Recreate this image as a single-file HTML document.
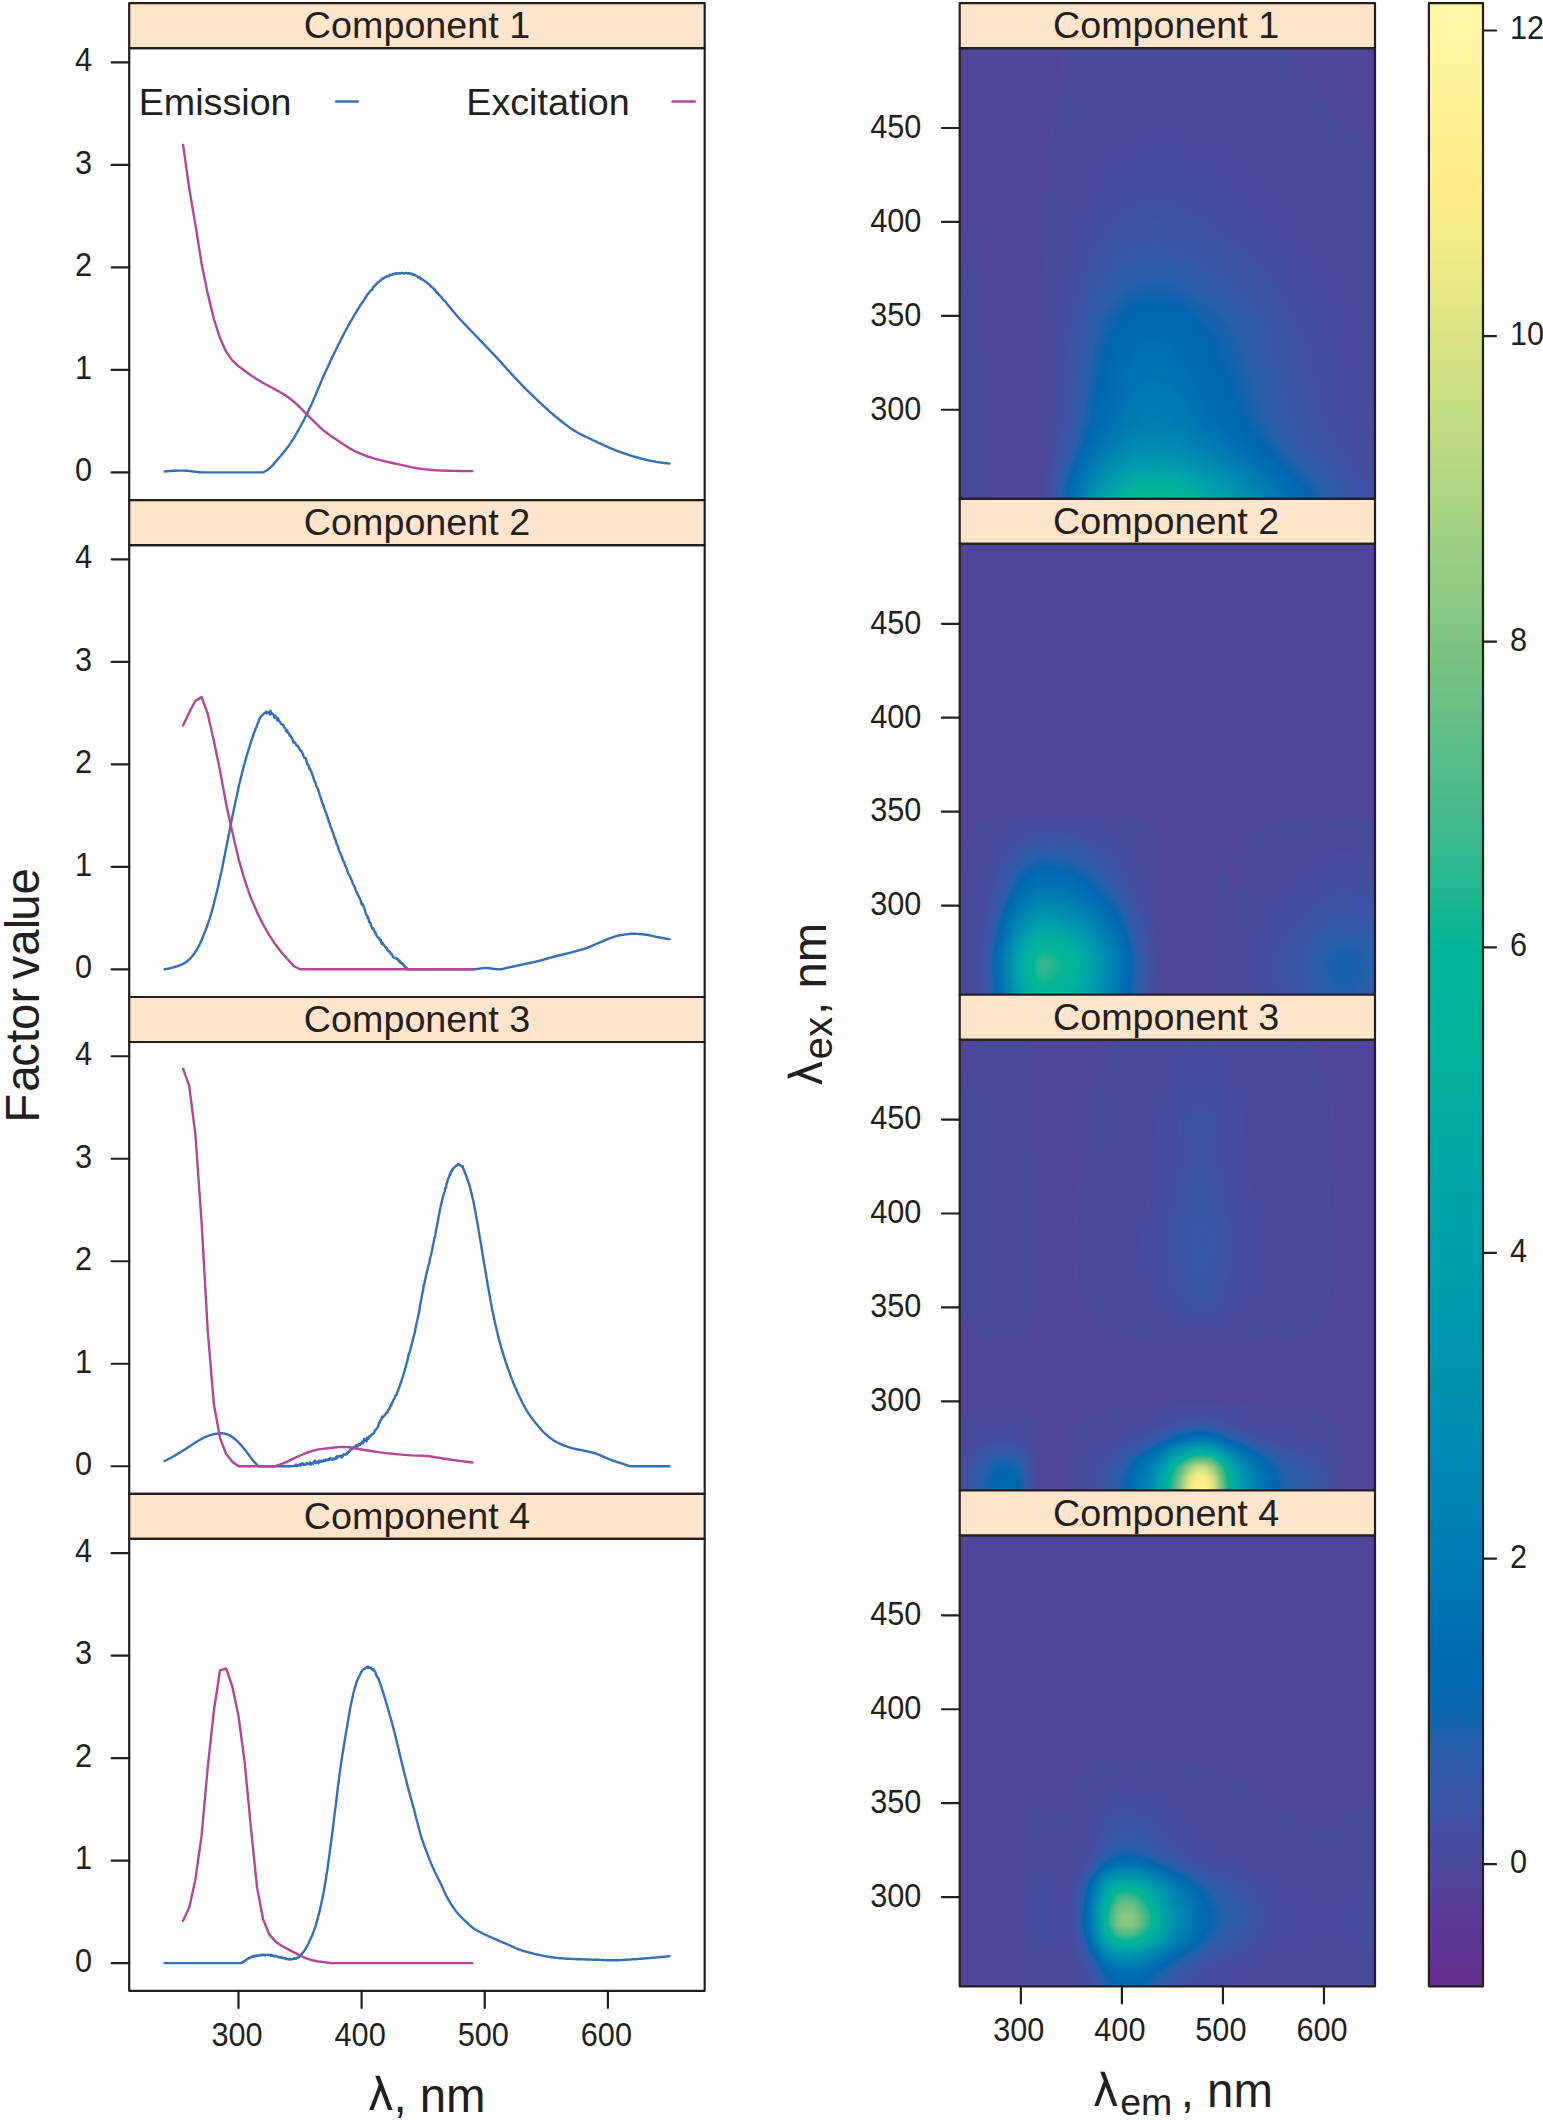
<!DOCTYPE html>
<html lang="en"><head><meta charset="utf-8"><title>PARAFAC components</title>
<style>html,body{margin:0;padding:0;background:#fff}svg{display:block}</style></head>
<body>
<svg width="1543" height="2120" viewBox="0 0 1543 2120" font-family="'Liberation Sans', sans-serif" fill="#231F20">
<rect width="1543" height="2120" fill="#fff"/>
<defs><linearGradient id="cb" x1="0" y1="0" x2="0" y2="1"><stop offset="0.0000" stop-color="#FFF6A8"/><stop offset="0.0154" stop-color="#FFF5A3"/><stop offset="0.0308" stop-color="#FFF49E"/><stop offset="0.0462" stop-color="#FFF298"/><stop offset="0.0615" stop-color="#FFF192"/><stop offset="0.0769" stop-color="#FEEF8C"/><stop offset="0.0923" stop-color="#FDEE86"/><stop offset="0.1077" stop-color="#F7EC86"/><stop offset="0.1231" stop-color="#F1EB85"/><stop offset="0.1385" stop-color="#E9E885"/><stop offset="0.1538" stop-color="#E1E684"/><stop offset="0.1692" stop-color="#D9E384"/><stop offset="0.1846" stop-color="#D1E083"/><stop offset="0.2000" stop-color="#C8DE82"/><stop offset="0.2154" stop-color="#C0DB82"/><stop offset="0.2308" stop-color="#B6D881"/><stop offset="0.2462" stop-color="#ADD581"/><stop offset="0.2615" stop-color="#A4D181"/><stop offset="0.2769" stop-color="#9BCE82"/><stop offset="0.2923" stop-color="#91CA82"/><stop offset="0.3077" stop-color="#87C783"/><stop offset="0.3231" stop-color="#7DC483"/><stop offset="0.3385" stop-color="#74C284"/><stop offset="0.3538" stop-color="#6AC085"/><stop offset="0.3692" stop-color="#60BE86"/><stop offset="0.3846" stop-color="#56BC88"/><stop offset="0.4000" stop-color="#4BBA8A"/><stop offset="0.4154" stop-color="#3FB98C"/><stop offset="0.4308" stop-color="#32B88E"/><stop offset="0.4462" stop-color="#23B791"/><stop offset="0.4615" stop-color="#11B693"/><stop offset="0.4769" stop-color="#00B596"/><stop offset="0.4923" stop-color="#00B497"/><stop offset="0.5077" stop-color="#00B398"/><stop offset="0.5231" stop-color="#00B29A"/><stop offset="0.5385" stop-color="#00B09C"/><stop offset="0.5538" stop-color="#00AE9F"/><stop offset="0.5692" stop-color="#00ABA2"/><stop offset="0.5846" stop-color="#00A8A6"/><stop offset="0.6000" stop-color="#00A5A8"/><stop offset="0.6154" stop-color="#00A3AA"/><stop offset="0.6308" stop-color="#00A0AC"/><stop offset="0.6462" stop-color="#009DAD"/><stop offset="0.6615" stop-color="#0099AE"/><stop offset="0.6769" stop-color="#0096AF"/><stop offset="0.6923" stop-color="#0092B0"/><stop offset="0.7077" stop-color="#008FB0"/><stop offset="0.7231" stop-color="#008BB1"/><stop offset="0.7385" stop-color="#0088B2"/><stop offset="0.7538" stop-color="#0084B2"/><stop offset="0.7692" stop-color="#007FB2"/><stop offset="0.7846" stop-color="#007BB2"/><stop offset="0.8000" stop-color="#0076B2"/><stop offset="0.8154" stop-color="#0071B3"/><stop offset="0.8308" stop-color="#006DB2"/><stop offset="0.8462" stop-color="#0068B1"/><stop offset="0.8615" stop-color="#0D64AF"/><stop offset="0.8769" stop-color="#2660AB"/><stop offset="0.8923" stop-color="#315AA8"/><stop offset="0.9077" stop-color="#3C55A5"/><stop offset="0.9231" stop-color="#454EA0"/><stop offset="0.9385" stop-color="#4D489C"/><stop offset="0.9538" stop-color="#554199"/><stop offset="0.9692" stop-color="#5C3A97"/><stop offset="0.9846" stop-color="#603494"/><stop offset="1.0000" stop-color="#652D90"/></linearGradient><filter id="cm" x="0" y="0" width="1" height="1" color-interpolation-filters="sRGB"><feComponentTransfer><feFuncR type="table" tableValues="0.313 0.313 0.313 0.313 0.313 0.306 0.297 0.291 0.291 0.291 0.291 0.291 0.291 0.291 0.291 0.291 0.291 0.291 0.291 0.291 0.289 0.288 0.287 0.285 0.284 0.282 0.281 0.279 0.277 0.276 0.274 0.272 0.270 0.268 0.266 0.264 0.261 0.259 0.257 0.254 0.252 0.249 0.247 0.244 0.241 0.239 0.236 0.232 0.228 0.224 0.220 0.216 0.212 0.208 0.204 0.199 0.195 0.190 0.185 0.181 0.176 0.171 0.166 0.161 0.156 0.151 0.140 0.128 0.115 0.103 0.090 0.077 0.063 0.050 0.036 0.022 0.008 0.000 0.000 0.000 0.000 0.000 0.000 0.000 0.000 0.000 0.000 0.000 0.000 0.000 0.000 0.000 0.000 0.000 0.000 0.000 0.000 0.000 0.000 0.000 0.000 0.000 0.000 0.000 0.000 0.000 0.000 0.000 0.000 0.000 0.000 0.000 0.000 0.000 0.000 0.000 0.000 0.000 0.000 0.000 0.000 0.000 0.000 0.000 0.000 0.000 0.000 0.000 0.000 0.000 0.000 0.000 0.000 0.000 0.000 0.000 0.000 0.000 0.000 0.000 0.000 0.000 0.000 0.000 0.000 0.000 0.000 0.000 0.000 0.000 0.000 0.000 0.000 0.000 0.000 0.000 0.000 0.000 0.000 0.000 0.000 0.000 0.000 0.000 0.000 0.000 0.000 0.000 0.000 0.000 0.000 0.000 0.000 0.000 0.000 0.000 0.000 0.000 0.000 0.004 0.028 0.052 0.076 0.100 0.124 0.149 0.173 0.191 0.208 0.226 0.243 0.260 0.278 0.295 0.311 0.325 0.340 0.355 0.371 0.386 0.401 0.415 0.429 0.444 0.458 0.472 0.487 0.502 0.517 0.532 0.548 0.563 0.579 0.594 0.609 0.623 0.638 0.653 0.667 0.682 0.697 0.712 0.727 0.742 0.757 0.772 0.786 0.800 0.814 0.828 0.843 0.857 0.870 0.884 0.898 0.912 0.925 0.938 0.949 0.961 0.972 0.983 0.995 0.997 0.997 0.998 0.999 1.000 1.000 1.000 1.000 1.000 1.000 1.000 1.000 1.000"/><feFuncG type="table" tableValues="0.272 0.272 0.272 0.272 0.272 0.279 0.286 0.291 0.291 0.291 0.291 0.291 0.291 0.291 0.291 0.291 0.291 0.291 0.291 0.291 0.292 0.293 0.294 0.295 0.296 0.297 0.299 0.300 0.301 0.302 0.304 0.305 0.307 0.308 0.310 0.312 0.313 0.315 0.317 0.319 0.321 0.323 0.325 0.327 0.329 0.331 0.333 0.335 0.337 0.339 0.341 0.343 0.345 0.347 0.349 0.351 0.354 0.356 0.358 0.361 0.363 0.365 0.368 0.371 0.373 0.376 0.378 0.380 0.382 0.384 0.386 0.388 0.390 0.392 0.394 0.396 0.399 0.401 0.404 0.406 0.409 0.412 0.414 0.417 0.420 0.423 0.425 0.428 0.431 0.434 0.437 0.440 0.444 0.447 0.450 0.453 0.457 0.460 0.464 0.467 0.471 0.474 0.478 0.481 0.485 0.488 0.492 0.495 0.499 0.502 0.506 0.509 0.513 0.516 0.520 0.524 0.527 0.530 0.533 0.537 0.540 0.543 0.546 0.549 0.553 0.556 0.559 0.563 0.566 0.569 0.573 0.576 0.580 0.583 0.587 0.590 0.594 0.597 0.601 0.604 0.607 0.611 0.614 0.617 0.621 0.624 0.627 0.630 0.633 0.637 0.640 0.643 0.646 0.649 0.652 0.655 0.659 0.662 0.665 0.668 0.672 0.675 0.678 0.682 0.684 0.687 0.689 0.691 0.694 0.696 0.699 0.701 0.703 0.704 0.705 0.706 0.707 0.708 0.709 0.710 0.711 0.712 0.713 0.714 0.715 0.716 0.718 0.719 0.721 0.722 0.724 0.726 0.727 0.729 0.732 0.735 0.738 0.740 0.743 0.746 0.749 0.752 0.755 0.758 0.761 0.764 0.767 0.771 0.776 0.781 0.786 0.791 0.796 0.801 0.807 0.812 0.818 0.824 0.829 0.835 0.840 0.846 0.851 0.856 0.861 0.867 0.871 0.875 0.879 0.883 0.887 0.891 0.896 0.900 0.905 0.910 0.915 0.919 0.922 0.924 0.927 0.930 0.933 0.936 0.939 0.942 0.944 0.947 0.950 0.952 0.954 0.956 0.958 0.960 0.963 0.965"/><feFuncB type="table" tableValues="0.608 0.608 0.608 0.608 0.608 0.610 0.614 0.618 0.618 0.618 0.618 0.618 0.618 0.618 0.618 0.618 0.618 0.618 0.618 0.618 0.618 0.619 0.620 0.621 0.621 0.622 0.623 0.624 0.625 0.626 0.627 0.628 0.629 0.630 0.631 0.632 0.633 0.634 0.636 0.637 0.638 0.640 0.641 0.642 0.644 0.645 0.647 0.648 0.649 0.650 0.651 0.652 0.653 0.655 0.656 0.657 0.658 0.659 0.661 0.662 0.663 0.665 0.666 0.667 0.669 0.670 0.672 0.674 0.676 0.678 0.680 0.682 0.684 0.686 0.688 0.691 0.693 0.694 0.695 0.696 0.696 0.697 0.697 0.698 0.699 0.699 0.700 0.700 0.701 0.702 0.702 0.702 0.701 0.701 0.701 0.700 0.700 0.700 0.700 0.699 0.699 0.699 0.698 0.698 0.698 0.698 0.698 0.698 0.698 0.698 0.698 0.698 0.698 0.698 0.698 0.698 0.698 0.697 0.696 0.696 0.695 0.694 0.693 0.693 0.692 0.691 0.691 0.690 0.690 0.689 0.689 0.688 0.688 0.688 0.687 0.687 0.687 0.686 0.685 0.683 0.682 0.681 0.680 0.678 0.677 0.676 0.675 0.672 0.670 0.668 0.666 0.664 0.661 0.659 0.657 0.654 0.651 0.647 0.643 0.640 0.636 0.632 0.628 0.624 0.621 0.618 0.614 0.611 0.607 0.604 0.600 0.597 0.595 0.594 0.593 0.592 0.591 0.590 0.589 0.588 0.584 0.580 0.576 0.573 0.569 0.565 0.561 0.558 0.556 0.553 0.550 0.547 0.544 0.542 0.539 0.536 0.533 0.530 0.527 0.524 0.521 0.520 0.519 0.518 0.517 0.516 0.514 0.513 0.513 0.512 0.512 0.511 0.510 0.510 0.509 0.508 0.508 0.507 0.507 0.506 0.507 0.507 0.508 0.508 0.509 0.510 0.511 0.512 0.514 0.515 0.516 0.518 0.518 0.519 0.520 0.520 0.521 0.522 0.523 0.523 0.524 0.525 0.525 0.535 0.547 0.558 0.570 0.582 0.592 0.602 0.612 0.622 0.632 0.642 0.653 0.663"/></feComponentTransfer></filter><linearGradient id="em0" x1="0" y1="0" x2="1" y2="0"><stop offset="0.0012" stop-color="#0F0F0F"/><stop offset="0.0073" stop-color="#111111"/><stop offset="0.0134" stop-color="#131313"/><stop offset="0.0195" stop-color="#141414"/><stop offset="0.0255" stop-color="#151515"/><stop offset="0.0316" stop-color="#151515"/><stop offset="0.0377" stop-color="#151515"/><stop offset="0.0438" stop-color="#141414"/><stop offset="0.0499" stop-color="#121212"/><stop offset="0.0560" stop-color="#101010"/><stop offset="0.0620" stop-color="#0C0C0C"/><stop offset="0.0681" stop-color="#080808"/><stop offset="0.0742" stop-color="#040404"/><stop offset="0.0803" stop-color="#000000"/><stop offset="0.0864" stop-color="#000000"/><stop offset="0.0925" stop-color="#000000"/><stop offset="0.0985" stop-color="#000000"/><stop offset="0.1046" stop-color="#000000"/><stop offset="0.1107" stop-color="#000000"/><stop offset="0.1168" stop-color="#000000"/><stop offset="0.1229" stop-color="#000000"/><stop offset="0.1290" stop-color="#000000"/><stop offset="0.1350" stop-color="#000000"/><stop offset="0.1411" stop-color="#000000"/><stop offset="0.1472" stop-color="#000000"/><stop offset="0.1533" stop-color="#000000"/><stop offset="0.1594" stop-color="#000000"/><stop offset="0.1655" stop-color="#000000"/><stop offset="0.1715" stop-color="#000000"/><stop offset="0.1776" stop-color="#000000"/><stop offset="0.1837" stop-color="#000000"/><stop offset="0.1898" stop-color="#000000"/><stop offset="0.1959" stop-color="#050505"/><stop offset="0.2019" stop-color="#141414"/><stop offset="0.2080" stop-color="#1F1F1F"/><stop offset="0.2141" stop-color="#282828"/><stop offset="0.2202" stop-color="#313131"/><stop offset="0.2263" stop-color="#393939"/><stop offset="0.2324" stop-color="#404040"/><stop offset="0.2384" stop-color="#474747"/><stop offset="0.2445" stop-color="#4D4D4D"/><stop offset="0.2506" stop-color="#535353"/><stop offset="0.2567" stop-color="#5A5A5A"/><stop offset="0.2628" stop-color="#606060"/><stop offset="0.2689" stop-color="#676767"/><stop offset="0.2749" stop-color="#6D6D6D"/><stop offset="0.2810" stop-color="#737373"/><stop offset="0.2871" stop-color="#7A7A7A"/><stop offset="0.2932" stop-color="#808080"/><stop offset="0.2993" stop-color="#868686"/><stop offset="0.3054" stop-color="#8C8C8C"/><stop offset="0.3114" stop-color="#929292"/><stop offset="0.3175" stop-color="#989898"/><stop offset="0.3236" stop-color="#9D9D9D"/><stop offset="0.3297" stop-color="#A2A2A2"/><stop offset="0.3358" stop-color="#A6A6A6"/><stop offset="0.3418" stop-color="#ABABAB"/><stop offset="0.3479" stop-color="#AFAFAF"/><stop offset="0.3540" stop-color="#B3B3B3"/><stop offset="0.3601" stop-color="#B7B7B7"/><stop offset="0.3662" stop-color="#BABABA"/><stop offset="0.3723" stop-color="#BDBDBD"/><stop offset="0.3783" stop-color="#C1C1C1"/><stop offset="0.3844" stop-color="#C4C4C4"/><stop offset="0.3905" stop-color="#C6C6C6"/><stop offset="0.3966" stop-color="#C9C9C9"/><stop offset="0.4027" stop-color="#CCCCCC"/><stop offset="0.4088" stop-color="#CECECE"/><stop offset="0.4148" stop-color="#D0D0D0"/><stop offset="0.4209" stop-color="#D2D2D2"/><stop offset="0.4270" stop-color="#D3D3D3"/><stop offset="0.4331" stop-color="#D5D5D5"/><stop offset="0.4392" stop-color="#D6D6D6"/><stop offset="0.4453" stop-color="#D6D6D6"/><stop offset="0.4513" stop-color="#D7D7D7"/><stop offset="0.4574" stop-color="#D7D7D7"/><stop offset="0.4635" stop-color="#D7D7D7"/><stop offset="0.4696" stop-color="#D7D7D7"/><stop offset="0.4757" stop-color="#D7D7D7"/><stop offset="0.4818" stop-color="#D7D7D7"/><stop offset="0.4878" stop-color="#D7D7D7"/><stop offset="0.4939" stop-color="#D6D6D6"/><stop offset="0.5000" stop-color="#D6D6D6"/><stop offset="0.5061" stop-color="#D5D5D5"/><stop offset="0.5122" stop-color="#D4D4D4"/><stop offset="0.5182" stop-color="#D2D2D2"/><stop offset="0.5243" stop-color="#D1D1D1"/><stop offset="0.5304" stop-color="#D0D0D0"/><stop offset="0.5365" stop-color="#CECECE"/><stop offset="0.5426" stop-color="#CCCCCC"/><stop offset="0.5487" stop-color="#CACACA"/><stop offset="0.5547" stop-color="#C8C8C8"/><stop offset="0.5608" stop-color="#C6C6C6"/><stop offset="0.5669" stop-color="#C3C3C3"/><stop offset="0.5730" stop-color="#C1C1C1"/><stop offset="0.5791" stop-color="#BFBFBF"/><stop offset="0.5852" stop-color="#BDBDBD"/><stop offset="0.5912" stop-color="#BBBBBB"/><stop offset="0.5973" stop-color="#B9B9B9"/><stop offset="0.6034" stop-color="#B7B7B7"/><stop offset="0.6095" stop-color="#B5B5B5"/><stop offset="0.6156" stop-color="#B3B3B3"/><stop offset="0.6217" stop-color="#B1B1B1"/><stop offset="0.6277" stop-color="#AEAEAE"/><stop offset="0.6338" stop-color="#ACACAC"/><stop offset="0.6399" stop-color="#AAAAAA"/><stop offset="0.6460" stop-color="#A8A8A8"/><stop offset="0.6521" stop-color="#A6A6A6"/><stop offset="0.6582" stop-color="#A3A3A3"/><stop offset="0.6642" stop-color="#A1A1A1"/><stop offset="0.6703" stop-color="#9E9E9E"/><stop offset="0.6764" stop-color="#9C9C9C"/><stop offset="0.6825" stop-color="#999999"/><stop offset="0.6886" stop-color="#979797"/><stop offset="0.6946" stop-color="#949494"/><stop offset="0.7007" stop-color="#919191"/><stop offset="0.7068" stop-color="#8F8F8F"/><stop offset="0.7129" stop-color="#8C8C8C"/><stop offset="0.7190" stop-color="#8A8A8A"/><stop offset="0.7251" stop-color="#878787"/><stop offset="0.7311" stop-color="#858585"/><stop offset="0.7372" stop-color="#828282"/><stop offset="0.7433" stop-color="#7F7F7F"/><stop offset="0.7494" stop-color="#7D7D7D"/><stop offset="0.7555" stop-color="#7A7A7A"/><stop offset="0.7616" stop-color="#777777"/><stop offset="0.7676" stop-color="#757575"/><stop offset="0.7737" stop-color="#727272"/><stop offset="0.7798" stop-color="#707070"/><stop offset="0.7859" stop-color="#6D6D6D"/><stop offset="0.7920" stop-color="#6A6A6A"/><stop offset="0.7981" stop-color="#686868"/><stop offset="0.8041" stop-color="#656565"/><stop offset="0.8102" stop-color="#636363"/><stop offset="0.8163" stop-color="#616161"/><stop offset="0.8224" stop-color="#5F5F5F"/><stop offset="0.8285" stop-color="#5D5D5D"/><stop offset="0.8345" stop-color="#5B5B5B"/><stop offset="0.8406" stop-color="#595959"/><stop offset="0.8467" stop-color="#575757"/><stop offset="0.8528" stop-color="#555555"/><stop offset="0.8589" stop-color="#535353"/><stop offset="0.8650" stop-color="#515151"/><stop offset="0.8710" stop-color="#4F4F4F"/><stop offset="0.8771" stop-color="#4D4D4D"/><stop offset="0.8832" stop-color="#4B4B4B"/><stop offset="0.8893" stop-color="#494949"/><stop offset="0.8954" stop-color="#474747"/><stop offset="0.9015" stop-color="#454545"/><stop offset="0.9075" stop-color="#434343"/><stop offset="0.9136" stop-color="#414141"/><stop offset="0.9197" stop-color="#3F3F3F"/><stop offset="0.9258" stop-color="#3E3E3E"/><stop offset="0.9319" stop-color="#3C3C3C"/><stop offset="0.9380" stop-color="#3A3A3A"/><stop offset="0.9440" stop-color="#393939"/><stop offset="0.9501" stop-color="#373737"/><stop offset="0.9562" stop-color="#353535"/><stop offset="0.9623" stop-color="#343434"/><stop offset="0.9684" stop-color="#333333"/><stop offset="0.9745" stop-color="#313131"/><stop offset="0.9805" stop-color="#303030"/><stop offset="0.9866" stop-color="#2F2F2F"/><stop offset="0.9927" stop-color="#2E2E2E"/><stop offset="0.9988" stop-color="#2E2E2E"/></linearGradient><linearGradient id="ex0" x1="0" y1="0" x2="0" y2="1"><stop offset="0.0104" stop-color="#0E0E0E"/><stop offset="0.0312" stop-color="#0E0E0E"/><stop offset="0.0521" stop-color="#0E0E0E"/><stop offset="0.0729" stop-color="#0F0F0F"/><stop offset="0.0938" stop-color="#101010"/><stop offset="0.1146" stop-color="#111111"/><stop offset="0.1354" stop-color="#121212"/><stop offset="0.1562" stop-color="#141414"/><stop offset="0.1771" stop-color="#161616"/><stop offset="0.1979" stop-color="#181818"/><stop offset="0.2188" stop-color="#1C1C1C"/><stop offset="0.2396" stop-color="#1F1F1F"/><stop offset="0.2604" stop-color="#222222"/><stop offset="0.2812" stop-color="#252525"/><stop offset="0.3021" stop-color="#272727"/><stop offset="0.3229" stop-color="#2A2A2A"/><stop offset="0.3438" stop-color="#2D2D2D"/><stop offset="0.3646" stop-color="#303030"/><stop offset="0.3854" stop-color="#333333"/><stop offset="0.4062" stop-color="#363636"/><stop offset="0.4271" stop-color="#3B3B3B"/><stop offset="0.4479" stop-color="#3F3F3F"/><stop offset="0.4688" stop-color="#444444"/><stop offset="0.4896" stop-color="#484848"/><stop offset="0.5104" stop-color="#4C4C4C"/><stop offset="0.5312" stop-color="#515151"/><stop offset="0.5521" stop-color="#565656"/><stop offset="0.5729" stop-color="#5B5B5B"/><stop offset="0.5938" stop-color="#606060"/><stop offset="0.6146" stop-color="#646464"/><stop offset="0.6354" stop-color="#676767"/><stop offset="0.6562" stop-color="#6A6A6A"/><stop offset="0.6771" stop-color="#6C6C6C"/><stop offset="0.6979" stop-color="#6E6E6E"/><stop offset="0.7188" stop-color="#717171"/><stop offset="0.7396" stop-color="#737373"/><stop offset="0.7604" stop-color="#757575"/><stop offset="0.7812" stop-color="#787878"/><stop offset="0.8021" stop-color="#7B7B7B"/><stop offset="0.8229" stop-color="#7E7E7E"/><stop offset="0.8438" stop-color="#838383"/><stop offset="0.8646" stop-color="#8A8A8A"/><stop offset="0.8854" stop-color="#939393"/><stop offset="0.9062" stop-color="#9F9F9F"/><stop offset="0.9271" stop-color="#ACACAC"/><stop offset="0.9479" stop-color="#BBBBBB"/><stop offset="0.9688" stop-color="#C9C9C9"/><stop offset="0.9896" stop-color="#D7D7D7"/></linearGradient><clipPath id="cl0"><rect x="129.2" y="48.20" width="575.50" height="451.90"/></clipPath><linearGradient id="em1" x1="0" y1="0" x2="1" y2="0"><stop offset="0.0012" stop-color="#000000"/><stop offset="0.0073" stop-color="#0A0A0A"/><stop offset="0.0134" stop-color="#0F0F0F"/><stop offset="0.0195" stop-color="#141414"/><stop offset="0.0255" stop-color="#181818"/><stop offset="0.0316" stop-color="#1C1C1C"/><stop offset="0.0377" stop-color="#202020"/><stop offset="0.0438" stop-color="#252525"/><stop offset="0.0499" stop-color="#2B2B2B"/><stop offset="0.0560" stop-color="#323232"/><stop offset="0.0620" stop-color="#393939"/><stop offset="0.0681" stop-color="#414141"/><stop offset="0.0742" stop-color="#4A4A4A"/><stop offset="0.0803" stop-color="#535353"/><stop offset="0.0864" stop-color="#5C5C5C"/><stop offset="0.0925" stop-color="#656565"/><stop offset="0.0985" stop-color="#6F6F6F"/><stop offset="0.1046" stop-color="#797979"/><stop offset="0.1107" stop-color="#838383"/><stop offset="0.1168" stop-color="#8D8D8D"/><stop offset="0.1229" stop-color="#979797"/><stop offset="0.1290" stop-color="#A0A0A0"/><stop offset="0.1350" stop-color="#A9A9A9"/><stop offset="0.1411" stop-color="#B1B1B1"/><stop offset="0.1472" stop-color="#B8B8B8"/><stop offset="0.1533" stop-color="#BFBFBF"/><stop offset="0.1594" stop-color="#C4C4C4"/><stop offset="0.1655" stop-color="#C9C9C9"/><stop offset="0.1715" stop-color="#CECECE"/><stop offset="0.1776" stop-color="#D2D2D2"/><stop offset="0.1837" stop-color="#D6D6D6"/><stop offset="0.1898" stop-color="#D9D9D9"/><stop offset="0.1959" stop-color="#DADADA"/><stop offset="0.2019" stop-color="#DBDBDB"/><stop offset="0.2080" stop-color="#DBDBDB"/><stop offset="0.2141" stop-color="#DADADA"/><stop offset="0.2202" stop-color="#D9D9D9"/><stop offset="0.2263" stop-color="#D8D8D8"/><stop offset="0.2324" stop-color="#D6D6D6"/><stop offset="0.2384" stop-color="#D4D4D4"/><stop offset="0.2445" stop-color="#D3D3D3"/><stop offset="0.2506" stop-color="#D1D1D1"/><stop offset="0.2567" stop-color="#CECECE"/><stop offset="0.2628" stop-color="#CCCCCC"/><stop offset="0.2689" stop-color="#CBCBCB"/><stop offset="0.2749" stop-color="#C9C9C9"/><stop offset="0.2810" stop-color="#C6C6C6"/><stop offset="0.2871" stop-color="#C2C2C2"/><stop offset="0.2932" stop-color="#BFBFBF"/><stop offset="0.2993" stop-color="#BBBBBB"/><stop offset="0.3054" stop-color="#B6B6B6"/><stop offset="0.3114" stop-color="#B2B2B2"/><stop offset="0.3175" stop-color="#ADADAD"/><stop offset="0.3236" stop-color="#A8A8A8"/><stop offset="0.3297" stop-color="#A3A3A3"/><stop offset="0.3358" stop-color="#9E9E9E"/><stop offset="0.3418" stop-color="#999999"/><stop offset="0.3479" stop-color="#949494"/><stop offset="0.3540" stop-color="#8F8F8F"/><stop offset="0.3601" stop-color="#8A8A8A"/><stop offset="0.3662" stop-color="#858585"/><stop offset="0.3723" stop-color="#808080"/><stop offset="0.3783" stop-color="#7B7B7B"/><stop offset="0.3844" stop-color="#757575"/><stop offset="0.3905" stop-color="#6F6F6F"/><stop offset="0.3966" stop-color="#696969"/><stop offset="0.4027" stop-color="#626262"/><stop offset="0.4088" stop-color="#5B5B5B"/><stop offset="0.4148" stop-color="#555555"/><stop offset="0.4209" stop-color="#4F4F4F"/><stop offset="0.4270" stop-color="#494949"/><stop offset="0.4331" stop-color="#444444"/><stop offset="0.4392" stop-color="#3F3F3F"/><stop offset="0.4453" stop-color="#393939"/><stop offset="0.4513" stop-color="#333333"/><stop offset="0.4574" stop-color="#2D2D2D"/><stop offset="0.4635" stop-color="#272727"/><stop offset="0.4696" stop-color="#212121"/><stop offset="0.4757" stop-color="#171717"/><stop offset="0.4818" stop-color="#070707"/><stop offset="0.4878" stop-color="#000000"/><stop offset="0.4939" stop-color="#000000"/><stop offset="0.5000" stop-color="#000000"/><stop offset="0.5061" stop-color="#000000"/><stop offset="0.5122" stop-color="#000000"/><stop offset="0.5182" stop-color="#000000"/><stop offset="0.5243" stop-color="#000000"/><stop offset="0.5304" stop-color="#000000"/><stop offset="0.5365" stop-color="#000000"/><stop offset="0.5426" stop-color="#000000"/><stop offset="0.5487" stop-color="#000000"/><stop offset="0.5547" stop-color="#000000"/><stop offset="0.5608" stop-color="#000000"/><stop offset="0.5669" stop-color="#000000"/><stop offset="0.5730" stop-color="#000000"/><stop offset="0.5791" stop-color="#000000"/><stop offset="0.5852" stop-color="#000000"/><stop offset="0.5912" stop-color="#000000"/><stop offset="0.5973" stop-color="#000000"/><stop offset="0.6034" stop-color="#000000"/><stop offset="0.6095" stop-color="#000000"/><stop offset="0.6156" stop-color="#050505"/><stop offset="0.6217" stop-color="#0A0A0A"/><stop offset="0.6277" stop-color="#0E0E0E"/><stop offset="0.6338" stop-color="#101010"/><stop offset="0.6399" stop-color="#0F0F0F"/><stop offset="0.6460" stop-color="#0D0D0D"/><stop offset="0.6521" stop-color="#090909"/><stop offset="0.6582" stop-color="#040404"/><stop offset="0.6642" stop-color="#030303"/><stop offset="0.6703" stop-color="#0A0A0A"/><stop offset="0.6764" stop-color="#101010"/><stop offset="0.6825" stop-color="#141414"/><stop offset="0.6886" stop-color="#161616"/><stop offset="0.6946" stop-color="#191919"/><stop offset="0.7007" stop-color="#1B1B1B"/><stop offset="0.7068" stop-color="#1E1E1E"/><stop offset="0.7129" stop-color="#202020"/><stop offset="0.7190" stop-color="#212121"/><stop offset="0.7251" stop-color="#232323"/><stop offset="0.7311" stop-color="#252525"/><stop offset="0.7372" stop-color="#272727"/><stop offset="0.7433" stop-color="#292929"/><stop offset="0.7494" stop-color="#2A2A2A"/><stop offset="0.7555" stop-color="#2C2C2C"/><stop offset="0.7616" stop-color="#2E2E2E"/><stop offset="0.7676" stop-color="#303030"/><stop offset="0.7737" stop-color="#313131"/><stop offset="0.7798" stop-color="#333333"/><stop offset="0.7859" stop-color="#343434"/><stop offset="0.7920" stop-color="#363636"/><stop offset="0.7981" stop-color="#373737"/><stop offset="0.8041" stop-color="#383838"/><stop offset="0.8102" stop-color="#3A3A3A"/><stop offset="0.8163" stop-color="#3B3B3B"/><stop offset="0.8224" stop-color="#3C3C3C"/><stop offset="0.8285" stop-color="#3E3E3E"/><stop offset="0.8345" stop-color="#3F3F3F"/><stop offset="0.8406" stop-color="#414141"/><stop offset="0.8467" stop-color="#434343"/><stop offset="0.8528" stop-color="#444444"/><stop offset="0.8589" stop-color="#464646"/><stop offset="0.8650" stop-color="#484848"/><stop offset="0.8710" stop-color="#4A4A4A"/><stop offset="0.8771" stop-color="#4B4B4B"/><stop offset="0.8832" stop-color="#4D4D4D"/><stop offset="0.8893" stop-color="#4E4E4E"/><stop offset="0.8954" stop-color="#4F4F4F"/><stop offset="0.9015" stop-color="#505050"/><stop offset="0.9075" stop-color="#505050"/><stop offset="0.9136" stop-color="#515151"/><stop offset="0.9197" stop-color="#515151"/><stop offset="0.9258" stop-color="#525252"/><stop offset="0.9319" stop-color="#525252"/><stop offset="0.9380" stop-color="#515151"/><stop offset="0.9440" stop-color="#515151"/><stop offset="0.9501" stop-color="#515151"/><stop offset="0.9562" stop-color="#505050"/><stop offset="0.9623" stop-color="#4F4F4F"/><stop offset="0.9684" stop-color="#4F4F4F"/><stop offset="0.9745" stop-color="#4E4E4E"/><stop offset="0.9805" stop-color="#4D4D4D"/><stop offset="0.9866" stop-color="#4C4C4C"/><stop offset="0.9927" stop-color="#4C4C4C"/><stop offset="0.9988" stop-color="#4B4B4B"/></linearGradient><linearGradient id="ex1" x1="0" y1="0" x2="0" y2="1"><stop offset="0.0104" stop-color="#000000"/><stop offset="0.0312" stop-color="#000000"/><stop offset="0.0521" stop-color="#000000"/><stop offset="0.0729" stop-color="#000000"/><stop offset="0.0938" stop-color="#000000"/><stop offset="0.1146" stop-color="#000000"/><stop offset="0.1354" stop-color="#000000"/><stop offset="0.1562" stop-color="#000000"/><stop offset="0.1771" stop-color="#000000"/><stop offset="0.1979" stop-color="#000000"/><stop offset="0.2188" stop-color="#000000"/><stop offset="0.2396" stop-color="#000000"/><stop offset="0.2604" stop-color="#000000"/><stop offset="0.2812" stop-color="#000000"/><stop offset="0.3021" stop-color="#000000"/><stop offset="0.3229" stop-color="#000000"/><stop offset="0.3438" stop-color="#000000"/><stop offset="0.3646" stop-color="#000000"/><stop offset="0.3854" stop-color="#000000"/><stop offset="0.4062" stop-color="#000000"/><stop offset="0.4271" stop-color="#000000"/><stop offset="0.4479" stop-color="#000000"/><stop offset="0.4688" stop-color="#000000"/><stop offset="0.4896" stop-color="#000000"/><stop offset="0.5104" stop-color="#000000"/><stop offset="0.5312" stop-color="#000000"/><stop offset="0.5521" stop-color="#000000"/><stop offset="0.5729" stop-color="#000000"/><stop offset="0.5938" stop-color="#000000"/><stop offset="0.6146" stop-color="#181818"/><stop offset="0.6354" stop-color="#2A2A2A"/><stop offset="0.6562" stop-color="#373737"/><stop offset="0.6771" stop-color="#424242"/><stop offset="0.6979" stop-color="#4E4E4E"/><stop offset="0.7188" stop-color="#595959"/><stop offset="0.7396" stop-color="#656565"/><stop offset="0.7604" stop-color="#707070"/><stop offset="0.7812" stop-color="#7D7D7D"/><stop offset="0.8021" stop-color="#8C8C8C"/><stop offset="0.8229" stop-color="#9C9C9C"/><stop offset="0.8438" stop-color="#ABABAB"/><stop offset="0.8646" stop-color="#BBBBBB"/><stop offset="0.8854" stop-color="#C9C9C9"/><stop offset="0.9062" stop-color="#D4D4D4"/><stop offset="0.9271" stop-color="#DBDBDB"/><stop offset="0.9479" stop-color="#DADADA"/><stop offset="0.9688" stop-color="#D5D5D5"/><stop offset="0.9896" stop-color="#CFCFCF"/></linearGradient><clipPath id="cl1"><rect x="129.2" y="545.10" width="575.50" height="451.90"/></clipPath><linearGradient id="em2" x1="0" y1="0" x2="1" y2="0"><stop offset="0.0012" stop-color="#212121"/><stop offset="0.0073" stop-color="#262626"/><stop offset="0.0134" stop-color="#2A2A2A"/><stop offset="0.0195" stop-color="#2E2E2E"/><stop offset="0.0255" stop-color="#323232"/><stop offset="0.0316" stop-color="#363636"/><stop offset="0.0377" stop-color="#393939"/><stop offset="0.0438" stop-color="#3D3D3D"/><stop offset="0.0499" stop-color="#404040"/><stop offset="0.0560" stop-color="#434343"/><stop offset="0.0620" stop-color="#464646"/><stop offset="0.0681" stop-color="#494949"/><stop offset="0.0742" stop-color="#4C4C4C"/><stop offset="0.0803" stop-color="#4E4E4E"/><stop offset="0.0864" stop-color="#4F4F4F"/><stop offset="0.0925" stop-color="#515151"/><stop offset="0.0985" stop-color="#525252"/><stop offset="0.1046" stop-color="#525252"/><stop offset="0.1107" stop-color="#535353"/><stop offset="0.1168" stop-color="#535353"/><stop offset="0.1229" stop-color="#525252"/><stop offset="0.1290" stop-color="#515151"/><stop offset="0.1350" stop-color="#4E4E4E"/><stop offset="0.1411" stop-color="#4B4B4B"/><stop offset="0.1472" stop-color="#474747"/><stop offset="0.1533" stop-color="#414141"/><stop offset="0.1594" stop-color="#3B3B3B"/><stop offset="0.1655" stop-color="#333333"/><stop offset="0.1715" stop-color="#2A2A2A"/><stop offset="0.1776" stop-color="#1F1F1F"/><stop offset="0.1837" stop-color="#111111"/><stop offset="0.1898" stop-color="#000000"/><stop offset="0.1959" stop-color="#000000"/><stop offset="0.2019" stop-color="#000000"/><stop offset="0.2080" stop-color="#000000"/><stop offset="0.2141" stop-color="#000000"/><stop offset="0.2202" stop-color="#000000"/><stop offset="0.2263" stop-color="#000000"/><stop offset="0.2324" stop-color="#000000"/><stop offset="0.2384" stop-color="#000000"/><stop offset="0.2445" stop-color="#000000"/><stop offset="0.2506" stop-color="#030303"/><stop offset="0.2567" stop-color="#080808"/><stop offset="0.2628" stop-color="#0D0D0D"/><stop offset="0.2689" stop-color="#111111"/><stop offset="0.2749" stop-color="#141414"/><stop offset="0.2810" stop-color="#161616"/><stop offset="0.2871" stop-color="#191919"/><stop offset="0.2932" stop-color="#1A1A1A"/><stop offset="0.2993" stop-color="#1C1C1C"/><stop offset="0.3054" stop-color="#1E1E1E"/><stop offset="0.3114" stop-color="#202020"/><stop offset="0.3175" stop-color="#222222"/><stop offset="0.3236" stop-color="#242424"/><stop offset="0.3297" stop-color="#272727"/><stop offset="0.3358" stop-color="#292929"/><stop offset="0.3418" stop-color="#2B2B2B"/><stop offset="0.3479" stop-color="#2E2E2E"/><stop offset="0.3540" stop-color="#303030"/><stop offset="0.3601" stop-color="#343434"/><stop offset="0.3662" stop-color="#383838"/><stop offset="0.3723" stop-color="#3D3D3D"/><stop offset="0.3783" stop-color="#404040"/><stop offset="0.3844" stop-color="#434343"/><stop offset="0.3905" stop-color="#454545"/><stop offset="0.3966" stop-color="#494949"/><stop offset="0.4027" stop-color="#4C4C4C"/><stop offset="0.4088" stop-color="#505050"/><stop offset="0.4148" stop-color="#545454"/><stop offset="0.4209" stop-color="#595959"/><stop offset="0.4270" stop-color="#616161"/><stop offset="0.4331" stop-color="#666666"/><stop offset="0.4392" stop-color="#696969"/><stop offset="0.4453" stop-color="#6E6E6E"/><stop offset="0.4513" stop-color="#737373"/><stop offset="0.4574" stop-color="#797979"/><stop offset="0.4635" stop-color="#7F7F7F"/><stop offset="0.4696" stop-color="#868686"/><stop offset="0.4757" stop-color="#8E8E8E"/><stop offset="0.4818" stop-color="#959595"/><stop offset="0.4878" stop-color="#9D9D9D"/><stop offset="0.4939" stop-color="#A5A5A5"/><stop offset="0.5000" stop-color="#ADADAD"/><stop offset="0.5061" stop-color="#B7B7B7"/><stop offset="0.5122" stop-color="#C0C0C0"/><stop offset="0.5182" stop-color="#C8C8C8"/><stop offset="0.5243" stop-color="#CECECE"/><stop offset="0.5304" stop-color="#D5D5D5"/><stop offset="0.5365" stop-color="#DDDDDD"/><stop offset="0.5426" stop-color="#E4E4E4"/><stop offset="0.5487" stop-color="#EAEAEA"/><stop offset="0.5547" stop-color="#F0F0F0"/><stop offset="0.5608" stop-color="#F4F4F4"/><stop offset="0.5669" stop-color="#F8F8F8"/><stop offset="0.5730" stop-color="#FAFAFA"/><stop offset="0.5791" stop-color="#FBFBFB"/><stop offset="0.5852" stop-color="#FBFBFB"/><stop offset="0.5912" stop-color="#F9F9F9"/><stop offset="0.5973" stop-color="#F6F6F6"/><stop offset="0.6034" stop-color="#F2F2F2"/><stop offset="0.6095" stop-color="#EDEDED"/><stop offset="0.6156" stop-color="#E6E6E6"/><stop offset="0.6217" stop-color="#DEDEDE"/><stop offset="0.6277" stop-color="#D5D5D5"/><stop offset="0.6338" stop-color="#CCCCCC"/><stop offset="0.6399" stop-color="#C2C2C2"/><stop offset="0.6460" stop-color="#B9B9B9"/><stop offset="0.6521" stop-color="#B0B0B0"/><stop offset="0.6582" stop-color="#A8A8A8"/><stop offset="0.6642" stop-color="#A0A0A0"/><stop offset="0.6703" stop-color="#999999"/><stop offset="0.6764" stop-color="#929292"/><stop offset="0.6825" stop-color="#8C8C8C"/><stop offset="0.6886" stop-color="#868686"/><stop offset="0.6946" stop-color="#808080"/><stop offset="0.7007" stop-color="#7A7A7A"/><stop offset="0.7068" stop-color="#747474"/><stop offset="0.7129" stop-color="#6F6F6F"/><stop offset="0.7190" stop-color="#6A6A6A"/><stop offset="0.7251" stop-color="#666666"/><stop offset="0.7311" stop-color="#616161"/><stop offset="0.7372" stop-color="#5D5D5D"/><stop offset="0.7433" stop-color="#595959"/><stop offset="0.7494" stop-color="#555555"/><stop offset="0.7555" stop-color="#515151"/><stop offset="0.7616" stop-color="#4E4E4E"/><stop offset="0.7676" stop-color="#4B4B4B"/><stop offset="0.7737" stop-color="#484848"/><stop offset="0.7798" stop-color="#454545"/><stop offset="0.7859" stop-color="#434343"/><stop offset="0.7920" stop-color="#414141"/><stop offset="0.7981" stop-color="#404040"/><stop offset="0.8041" stop-color="#3E3E3E"/><stop offset="0.8102" stop-color="#3D3D3D"/><stop offset="0.8163" stop-color="#3B3B3B"/><stop offset="0.8224" stop-color="#3A3A3A"/><stop offset="0.8285" stop-color="#393939"/><stop offset="0.8345" stop-color="#383838"/><stop offset="0.8406" stop-color="#373737"/><stop offset="0.8467" stop-color="#353535"/><stop offset="0.8528" stop-color="#343434"/><stop offset="0.8589" stop-color="#313131"/><stop offset="0.8650" stop-color="#2E2E2E"/><stop offset="0.8710" stop-color="#2B2B2B"/><stop offset="0.8771" stop-color="#282828"/><stop offset="0.8832" stop-color="#252525"/><stop offset="0.8893" stop-color="#212121"/><stop offset="0.8954" stop-color="#1E1E1E"/><stop offset="0.9015" stop-color="#1A1A1A"/><stop offset="0.9075" stop-color="#161616"/><stop offset="0.9136" stop-color="#101010"/><stop offset="0.9197" stop-color="#070707"/><stop offset="0.9258" stop-color="#000000"/><stop offset="0.9319" stop-color="#000000"/><stop offset="0.9380" stop-color="#000000"/><stop offset="0.9440" stop-color="#000000"/><stop offset="0.9501" stop-color="#000000"/><stop offset="0.9562" stop-color="#000000"/><stop offset="0.9623" stop-color="#000000"/><stop offset="0.9684" stop-color="#000000"/><stop offset="0.9745" stop-color="#000000"/><stop offset="0.9805" stop-color="#000000"/><stop offset="0.9866" stop-color="#000000"/><stop offset="0.9927" stop-color="#000000"/><stop offset="0.9988" stop-color="#000000"/></linearGradient><linearGradient id="ex2" x1="0" y1="0" x2="0" y2="1"><stop offset="0.0104" stop-color="#181818"/><stop offset="0.0312" stop-color="#1B1B1B"/><stop offset="0.0521" stop-color="#1D1D1D"/><stop offset="0.0729" stop-color="#1F1F1F"/><stop offset="0.0938" stop-color="#212121"/><stop offset="0.1146" stop-color="#242424"/><stop offset="0.1354" stop-color="#262626"/><stop offset="0.1562" stop-color="#282828"/><stop offset="0.1771" stop-color="#292929"/><stop offset="0.1979" stop-color="#292929"/><stop offset="0.2188" stop-color="#292929"/><stop offset="0.2396" stop-color="#2A2A2A"/><stop offset="0.2604" stop-color="#2B2B2B"/><stop offset="0.2812" stop-color="#2C2C2C"/><stop offset="0.3021" stop-color="#2E2E2E"/><stop offset="0.3229" stop-color="#2F2F2F"/><stop offset="0.3438" stop-color="#303030"/><stop offset="0.3646" stop-color="#323232"/><stop offset="0.3854" stop-color="#333333"/><stop offset="0.4062" stop-color="#353535"/><stop offset="0.4271" stop-color="#373737"/><stop offset="0.4479" stop-color="#373737"/><stop offset="0.4688" stop-color="#373737"/><stop offset="0.4896" stop-color="#363636"/><stop offset="0.5104" stop-color="#353535"/><stop offset="0.5312" stop-color="#343434"/><stop offset="0.5521" stop-color="#313131"/><stop offset="0.5729" stop-color="#2E2E2E"/><stop offset="0.5938" stop-color="#292929"/><stop offset="0.6146" stop-color="#232323"/><stop offset="0.6354" stop-color="#1C1C1C"/><stop offset="0.6562" stop-color="#131313"/><stop offset="0.6771" stop-color="#050505"/><stop offset="0.6979" stop-color="#000000"/><stop offset="0.7188" stop-color="#000000"/><stop offset="0.7396" stop-color="#000000"/><stop offset="0.7604" stop-color="#000000"/><stop offset="0.7812" stop-color="#000000"/><stop offset="0.8021" stop-color="#000000"/><stop offset="0.8229" stop-color="#1B1B1B"/><stop offset="0.8438" stop-color="#2C2C2C"/><stop offset="0.8646" stop-color="#434343"/><stop offset="0.8854" stop-color="#636363"/><stop offset="0.9062" stop-color="#939393"/><stop offset="0.9271" stop-color="#C4C4C4"/><stop offset="0.9479" stop-color="#E5E5E5"/><stop offset="0.9688" stop-color="#F5F5F5"/><stop offset="0.9896" stop-color="#FBFBFB"/></linearGradient><clipPath id="cl2"><rect x="129.2" y="1042.00" width="575.50" height="451.90"/></clipPath><linearGradient id="em3" x1="0" y1="0" x2="1" y2="0"><stop offset="0.0012" stop-color="#000000"/><stop offset="0.0073" stop-color="#000000"/><stop offset="0.0134" stop-color="#000000"/><stop offset="0.0195" stop-color="#000000"/><stop offset="0.0255" stop-color="#000000"/><stop offset="0.0316" stop-color="#000000"/><stop offset="0.0377" stop-color="#000000"/><stop offset="0.0438" stop-color="#000000"/><stop offset="0.0499" stop-color="#000000"/><stop offset="0.0560" stop-color="#000000"/><stop offset="0.0620" stop-color="#000000"/><stop offset="0.0681" stop-color="#000000"/><stop offset="0.0742" stop-color="#000000"/><stop offset="0.0803" stop-color="#000000"/><stop offset="0.0864" stop-color="#000000"/><stop offset="0.0925" stop-color="#000000"/><stop offset="0.0985" stop-color="#000000"/><stop offset="0.1046" stop-color="#000000"/><stop offset="0.1107" stop-color="#000000"/><stop offset="0.1168" stop-color="#000000"/><stop offset="0.1229" stop-color="#000000"/><stop offset="0.1290" stop-color="#000000"/><stop offset="0.1350" stop-color="#000000"/><stop offset="0.1411" stop-color="#000000"/><stop offset="0.1472" stop-color="#000000"/><stop offset="0.1533" stop-color="#050505"/><stop offset="0.1594" stop-color="#151515"/><stop offset="0.1655" stop-color="#1C1C1C"/><stop offset="0.1715" stop-color="#202020"/><stop offset="0.1776" stop-color="#232323"/><stop offset="0.1837" stop-color="#252525"/><stop offset="0.1898" stop-color="#262626"/><stop offset="0.1959" stop-color="#272727"/><stop offset="0.2019" stop-color="#272727"/><stop offset="0.2080" stop-color="#262626"/><stop offset="0.2141" stop-color="#252525"/><stop offset="0.2202" stop-color="#242424"/><stop offset="0.2263" stop-color="#222222"/><stop offset="0.2324" stop-color="#1F1F1F"/><stop offset="0.2384" stop-color="#1D1D1D"/><stop offset="0.2445" stop-color="#1B1B1B"/><stop offset="0.2506" stop-color="#1B1B1B"/><stop offset="0.2567" stop-color="#1C1C1C"/><stop offset="0.2628" stop-color="#1F1F1F"/><stop offset="0.2689" stop-color="#242424"/><stop offset="0.2749" stop-color="#2C2C2C"/><stop offset="0.2810" stop-color="#353535"/><stop offset="0.2871" stop-color="#3E3E3E"/><stop offset="0.2932" stop-color="#484848"/><stop offset="0.2993" stop-color="#525252"/><stop offset="0.3054" stop-color="#5D5D5D"/><stop offset="0.3114" stop-color="#696969"/><stop offset="0.3175" stop-color="#767676"/><stop offset="0.3236" stop-color="#848484"/><stop offset="0.3297" stop-color="#939393"/><stop offset="0.3358" stop-color="#A1A1A1"/><stop offset="0.3418" stop-color="#AFAFAF"/><stop offset="0.3479" stop-color="#BBBBBB"/><stop offset="0.3540" stop-color="#C4C4C4"/><stop offset="0.3601" stop-color="#CDCDCD"/><stop offset="0.3662" stop-color="#D5D5D5"/><stop offset="0.3723" stop-color="#DBDBDB"/><stop offset="0.3783" stop-color="#E0E0E0"/><stop offset="0.3844" stop-color="#E4E4E4"/><stop offset="0.3905" stop-color="#E6E6E6"/><stop offset="0.3966" stop-color="#E7E7E7"/><stop offset="0.4027" stop-color="#E8E8E8"/><stop offset="0.4088" stop-color="#E7E7E7"/><stop offset="0.4148" stop-color="#E6E6E6"/><stop offset="0.4209" stop-color="#E4E4E4"/><stop offset="0.4270" stop-color="#E1E1E1"/><stop offset="0.4331" stop-color="#DDDDDD"/><stop offset="0.4392" stop-color="#D9D9D9"/><stop offset="0.4453" stop-color="#D5D5D5"/><stop offset="0.4513" stop-color="#D0D0D0"/><stop offset="0.4574" stop-color="#CBCBCB"/><stop offset="0.4635" stop-color="#C5C5C5"/><stop offset="0.4696" stop-color="#BFBFBF"/><stop offset="0.4757" stop-color="#B9B9B9"/><stop offset="0.4818" stop-color="#B3B3B3"/><stop offset="0.4878" stop-color="#ADADAD"/><stop offset="0.4939" stop-color="#A7A7A7"/><stop offset="0.5000" stop-color="#A0A0A0"/><stop offset="0.5061" stop-color="#9A9A9A"/><stop offset="0.5122" stop-color="#949494"/><stop offset="0.5182" stop-color="#8E8E8E"/><stop offset="0.5243" stop-color="#898989"/><stop offset="0.5304" stop-color="#848484"/><stop offset="0.5365" stop-color="#808080"/><stop offset="0.5426" stop-color="#7B7B7B"/><stop offset="0.5487" stop-color="#777777"/><stop offset="0.5547" stop-color="#717171"/><stop offset="0.5608" stop-color="#6C6C6C"/><stop offset="0.5669" stop-color="#686868"/><stop offset="0.5730" stop-color="#646464"/><stop offset="0.5791" stop-color="#606060"/><stop offset="0.5852" stop-color="#5C5C5C"/><stop offset="0.5912" stop-color="#595959"/><stop offset="0.5973" stop-color="#565656"/><stop offset="0.6034" stop-color="#535353"/><stop offset="0.6095" stop-color="#505050"/><stop offset="0.6156" stop-color="#4E4E4E"/><stop offset="0.6217" stop-color="#4C4C4C"/><stop offset="0.6277" stop-color="#4A4A4A"/><stop offset="0.6338" stop-color="#484848"/><stop offset="0.6399" stop-color="#464646"/><stop offset="0.6460" stop-color="#454545"/><stop offset="0.6521" stop-color="#434343"/><stop offset="0.6582" stop-color="#414141"/><stop offset="0.6642" stop-color="#3F3F3F"/><stop offset="0.6703" stop-color="#3D3D3D"/><stop offset="0.6764" stop-color="#3B3B3B"/><stop offset="0.6825" stop-color="#393939"/><stop offset="0.6886" stop-color="#373737"/><stop offset="0.6946" stop-color="#343434"/><stop offset="0.7007" stop-color="#323232"/><stop offset="0.7068" stop-color="#303030"/><stop offset="0.7129" stop-color="#2E2E2E"/><stop offset="0.7190" stop-color="#2D2D2D"/><stop offset="0.7251" stop-color="#2B2B2B"/><stop offset="0.7311" stop-color="#292929"/><stop offset="0.7372" stop-color="#282828"/><stop offset="0.7433" stop-color="#262626"/><stop offset="0.7494" stop-color="#252525"/><stop offset="0.7555" stop-color="#232323"/><stop offset="0.7616" stop-color="#222222"/><stop offset="0.7676" stop-color="#202020"/><stop offset="0.7737" stop-color="#1F1F1F"/><stop offset="0.7798" stop-color="#1E1E1E"/><stop offset="0.7859" stop-color="#1E1E1E"/><stop offset="0.7920" stop-color="#1D1D1D"/><stop offset="0.7981" stop-color="#1C1C1C"/><stop offset="0.8041" stop-color="#1C1C1C"/><stop offset="0.8102" stop-color="#1B1B1B"/><stop offset="0.8163" stop-color="#1B1B1B"/><stop offset="0.8224" stop-color="#1A1A1A"/><stop offset="0.8285" stop-color="#1A1A1A"/><stop offset="0.8345" stop-color="#1A1A1A"/><stop offset="0.8406" stop-color="#1A1A1A"/><stop offset="0.8467" stop-color="#191919"/><stop offset="0.8528" stop-color="#191919"/><stop offset="0.8589" stop-color="#191919"/><stop offset="0.8650" stop-color="#181818"/><stop offset="0.8710" stop-color="#181818"/><stop offset="0.8771" stop-color="#171717"/><stop offset="0.8832" stop-color="#171717"/><stop offset="0.8893" stop-color="#171717"/><stop offset="0.8954" stop-color="#171717"/><stop offset="0.9015" stop-color="#171717"/><stop offset="0.9075" stop-color="#181818"/><stop offset="0.9136" stop-color="#191919"/><stop offset="0.9197" stop-color="#1A1A1A"/><stop offset="0.9258" stop-color="#1A1A1A"/><stop offset="0.9319" stop-color="#1B1B1B"/><stop offset="0.9380" stop-color="#1C1C1C"/><stop offset="0.9440" stop-color="#1C1C1C"/><stop offset="0.9501" stop-color="#1D1D1D"/><stop offset="0.9562" stop-color="#1E1E1E"/><stop offset="0.9623" stop-color="#1F1F1F"/><stop offset="0.9684" stop-color="#202020"/><stop offset="0.9745" stop-color="#202020"/><stop offset="0.9805" stop-color="#212121"/><stop offset="0.9866" stop-color="#222222"/><stop offset="0.9927" stop-color="#232323"/><stop offset="0.9988" stop-color="#242424"/></linearGradient><linearGradient id="ex3" x1="0" y1="0" x2="0" y2="1"><stop offset="0.0104" stop-color="#000000"/><stop offset="0.0312" stop-color="#000000"/><stop offset="0.0521" stop-color="#000000"/><stop offset="0.0729" stop-color="#000000"/><stop offset="0.0938" stop-color="#000000"/><stop offset="0.1146" stop-color="#000000"/><stop offset="0.1354" stop-color="#000000"/><stop offset="0.1562" stop-color="#000000"/><stop offset="0.1771" stop-color="#000000"/><stop offset="0.1979" stop-color="#000000"/><stop offset="0.2188" stop-color="#000000"/><stop offset="0.2396" stop-color="#000000"/><stop offset="0.2604" stop-color="#000000"/><stop offset="0.2812" stop-color="#000000"/><stop offset="0.3021" stop-color="#000000"/><stop offset="0.3229" stop-color="#000000"/><stop offset="0.3438" stop-color="#000000"/><stop offset="0.3646" stop-color="#000000"/><stop offset="0.3854" stop-color="#000000"/><stop offset="0.4062" stop-color="#000000"/><stop offset="0.4271" stop-color="#000000"/><stop offset="0.4479" stop-color="#000000"/><stop offset="0.4688" stop-color="#000000"/><stop offset="0.4896" stop-color="#000000"/><stop offset="0.5104" stop-color="#0D0D0D"/><stop offset="0.5312" stop-color="#121212"/><stop offset="0.5521" stop-color="#171717"/><stop offset="0.5729" stop-color="#1D1D1D"/><stop offset="0.5938" stop-color="#252525"/><stop offset="0.6146" stop-color="#2C2C2C"/><stop offset="0.6354" stop-color="#333333"/><stop offset="0.6562" stop-color="#383838"/><stop offset="0.6771" stop-color="#3F3F3F"/><stop offset="0.6979" stop-color="#484848"/><stop offset="0.7188" stop-color="#595959"/><stop offset="0.7396" stop-color="#767676"/><stop offset="0.7604" stop-color="#9E9E9E"/><stop offset="0.7812" stop-color="#BFBFBF"/><stop offset="0.8021" stop-color="#D4D4D4"/><stop offset="0.8229" stop-color="#E0E0E0"/><stop offset="0.8438" stop-color="#E8E8E8"/><stop offset="0.8646" stop-color="#E7E7E7"/><stop offset="0.8854" stop-color="#D6D6D6"/><stop offset="0.9062" stop-color="#BDBDBD"/><stop offset="0.9271" stop-color="#999999"/><stop offset="0.9479" stop-color="#7B7B7B"/><stop offset="0.9688" stop-color="#646464"/><stop offset="0.9896" stop-color="#585858"/></linearGradient><clipPath id="cl3"><rect x="129.2" y="1538.90" width="575.50" height="451.90"/></clipPath></defs>
<g stroke="#231F20" stroke-width="2.2" fill="none" stroke-linejoin="round" stroke-linecap="round">
<rect x="129.2" y="3.20" width="575.50" height="45.0" fill="#FFE5CC"/>
<rect x="129.2" y="48.20" width="575.50" height="451.90"/>
<line x1="111.60" y1="472.45" x2="129.20" y2="472.45" />
<line x1="111.60" y1="369.95" x2="129.20" y2="369.95" />
<line x1="111.60" y1="267.45" x2="129.20" y2="267.45" />
<line x1="111.60" y1="164.95" x2="129.20" y2="164.95" />
<line x1="111.60" y1="62.45" x2="129.20" y2="62.45" />
<rect x="129.2" y="500.10" width="575.50" height="45.0" fill="#FFE5CC"/>
<rect x="129.2" y="545.10" width="575.50" height="451.90"/>
<line x1="111.60" y1="969.35" x2="129.20" y2="969.35" />
<line x1="111.60" y1="866.85" x2="129.20" y2="866.85" />
<line x1="111.60" y1="764.35" x2="129.20" y2="764.35" />
<line x1="111.60" y1="661.85" x2="129.20" y2="661.85" />
<line x1="111.60" y1="559.35" x2="129.20" y2="559.35" />
<rect x="129.2" y="997.00" width="575.50" height="45.0" fill="#FFE5CC"/>
<rect x="129.2" y="1042.00" width="575.50" height="451.90"/>
<line x1="111.60" y1="1466.25" x2="129.20" y2="1466.25" />
<line x1="111.60" y1="1363.75" x2="129.20" y2="1363.75" />
<line x1="111.60" y1="1261.25" x2="129.20" y2="1261.25" />
<line x1="111.60" y1="1158.75" x2="129.20" y2="1158.75" />
<line x1="111.60" y1="1056.25" x2="129.20" y2="1056.25" />
<rect x="129.2" y="1493.90" width="575.50" height="45.0" fill="#FFE5CC"/>
<rect x="129.2" y="1538.90" width="575.50" height="451.90"/>
<line x1="111.60" y1="1963.15" x2="129.20" y2="1963.15" />
<line x1="111.60" y1="1860.65" x2="129.20" y2="1860.65" />
<line x1="111.60" y1="1758.15" x2="129.20" y2="1758.15" />
<line x1="111.60" y1="1655.65" x2="129.20" y2="1655.65" />
<line x1="111.60" y1="1553.15" x2="129.20" y2="1553.15" />
<line x1="238.50" y1="1990.80" x2="238.50" y2="2008.00" />
<line x1="361.63" y1="1990.80" x2="361.63" y2="2008.00" />
<line x1="484.76" y1="1990.80" x2="484.76" y2="2008.00" />
<line x1="607.89" y1="1990.80" x2="607.89" y2="2008.00" />
</g>
<polyline points="164.6,471.5 165.2,471.5 165.9,471.4 166.5,471.3 167.1,471.3 167.7,471.2 168.3,471.1 168.9,471.1 169.5,471.0 170.2,471.0 170.8,470.9 171.4,470.9 172.0,470.9 172.6,470.8 173.2,470.8 173.9,470.8 174.5,470.7 175.1,470.7 175.7,470.7 176.3,470.7 176.9,470.6 177.6,470.6 178.2,470.6 178.8,470.6 179.4,470.6 180.0,470.6 180.6,470.6 181.2,470.6 181.9,470.6 182.5,470.6 183.1,470.6 183.7,470.6 184.3,470.6 184.9,470.6 185.6,470.7 186.2,470.7 186.8,470.7 187.4,470.8 188.0,470.9 188.6,470.9 189.2,471.0 189.9,471.1 190.5,471.1 191.1,471.2 191.7,471.3 192.3,471.4 192.9,471.5 193.6,471.5 194.2,471.6 194.8,471.7 195.4,471.8 196.0,471.9 196.6,471.9 197.3,472.0 197.9,472.1 198.5,472.1 199.1,472.2 199.7,472.3 200.3,472.3 200.9,472.4 201.6,472.4 202.2,472.4 202.8,472.4 203.4,472.4 204.0,472.4 204.6,472.4 205.3,472.4 205.9,472.4 206.5,472.4 207.1,472.4 207.7,472.4 208.3,472.4 208.9,472.4 209.6,472.4 210.2,472.4 210.8,472.4 211.4,472.4 212.0,472.4 212.6,472.4 213.3,472.4 213.9,472.4 214.5,472.4 215.1,472.4 215.7,472.4 216.3,472.4 217.0,472.4 217.6,472.4 218.2,472.4 218.8,472.4 219.4,472.4 220.0,472.4 220.6,472.4 221.3,472.4 221.9,472.4 222.5,472.4 223.1,472.4 223.7,472.4 224.3,472.4 225.0,472.4 225.6,472.4 226.2,472.4 226.8,472.4 227.4,472.4 228.0,472.4 228.6,472.4 229.3,472.4 229.9,472.4 230.5,472.4 231.1,472.4 231.7,472.4 232.3,472.4 233.0,472.4 233.6,472.4 234.2,472.4 234.8,472.4 235.4,472.4 236.0,472.4 236.7,472.4 237.3,472.4 237.9,472.4 238.5,472.4 239.1,472.4 239.7,472.4 240.3,472.4 241.0,472.4 241.6,472.4 242.2,472.4 242.8,472.4 243.4,472.4 244.0,472.4 244.7,472.4 245.3,472.4 245.9,472.4 246.5,472.4 247.1,472.4 247.7,472.4 248.4,472.4 249.0,472.4 249.6,472.4 250.2,472.4 250.8,472.4 251.4,472.4 252.0,472.4 252.7,472.4 253.3,472.4 253.9,472.4 254.5,472.4 255.1,472.4 255.7,472.4 256.4,472.4 257.0,472.4 257.6,472.4 258.2,472.4 258.8,472.4 259.4,472.4 260.0,472.4 260.7,472.4 261.3,472.4 261.9,472.4 262.5,472.4 263.1,472.3 263.7,472.1 264.4,471.8 265.0,471.5 265.6,471.1 266.2,470.7 266.8,470.3 267.4,469.8 268.1,469.4 268.7,468.9 269.3,468.4 269.9,467.9 270.5,467.4 271.1,466.8 271.7,466.1 272.4,465.5 273.0,464.8 273.6,464.1 274.2,463.4 274.8,462.7 275.4,462.0 276.1,461.2 276.7,460.5 277.3,459.8 277.9,459.1 278.5,458.4 279.1,457.7 279.7,457.0 280.4,456.3 281.0,455.6 281.6,454.8 282.2,454.1 282.8,453.4 283.4,452.6 284.1,451.8 284.7,451.1 285.3,450.3 285.9,449.5 286.5,448.7 287.1,447.9 287.8,447.0 288.4,446.2 289.0,445.3 289.6,444.4 290.2,443.6 290.8,442.6 291.4,441.7 292.1,440.8 292.7,439.8 293.3,438.8 293.9,437.8 294.5,436.8 295.1,435.8 295.8,434.7 296.4,433.7 297.0,432.6 297.6,431.5 298.2,430.4 298.8,429.3 299.4,428.2 300.1,427.1 300.7,426.0 301.3,424.9 301.9,423.7 302.5,422.6 303.1,421.4 303.8,420.2 304.4,419.1 305.0,417.8 305.6,416.6 306.2,415.4 306.8,414.1 307.5,412.9 308.1,411.6 308.7,410.3 309.3,409.0 309.9,407.7 310.5,406.4 311.1,405.1 311.8,403.7 312.4,402.4 313.0,401.0 313.6,399.5 314.2,398.1 314.8,396.7 315.5,395.2 316.1,393.7 316.7,392.2 317.3,390.8 317.9,389.3 318.5,387.8 319.2,386.3 319.8,384.9 320.4,383.4 321.0,382.0 321.6,380.6 322.2,379.2 322.8,377.8 323.5,376.4 324.1,375.0 324.7,373.7 325.3,372.3 325.9,370.9 326.5,369.6 327.2,368.2 327.8,366.9 328.4,365.6 329.0,364.2 329.6,362.9 330.2,361.6 330.8,360.3 331.5,358.9 332.1,357.6 332.7,356.3 333.3,355.1 333.9,353.8 334.5,352.5 335.2,351.2 335.8,350.0 336.4,348.7 337.0,347.4 337.6,346.2 338.2,344.9 338.9,343.7 339.5,342.5 340.1,341.2 340.7,340.0 341.3,338.8 341.9,337.6 342.5,336.4 343.2,335.2 343.8,334.0 344.4,332.9 345.0,331.7 345.6,330.6 346.2,329.4 346.9,328.3 347.5,327.2 348.1,326.0 348.7,324.9 349.3,323.8 349.9,322.7 350.5,321.6 351.2,320.6 351.8,319.5 352.4,318.4 353.0,317.4 353.6,316.3 354.2,315.3 354.9,314.2 355.5,313.2 356.1,312.2 356.7,311.2 357.3,310.2 357.9,309.2 358.6,308.2 359.2,307.2 359.8,306.2 360.4,305.2 361.0,304.3 361.6,303.5 362.2,302.5 362.9,301.9 363.5,301.1 364.1,299.8 364.7,299.1 365.3,298.2 365.9,296.8 366.6,296.1 367.2,294.4 367.8,294.1 368.4,293.8 369.0,292.5 369.6,291.8 370.2,291.4 370.9,290.1 371.5,289.9 372.1,289.9 372.7,287.9 373.3,287.6 373.9,286.3 374.6,286.2 375.2,285.7 375.8,284.2 376.4,284.4 377.0,283.4 377.6,282.4 378.3,282.3 378.9,281.8 379.5,281.2 380.1,280.5 380.7,280.5 381.3,279.6 381.9,279.1 382.6,278.2 383.2,278.6 383.8,278.3 384.4,277.4 385.0,277.4 385.6,276.9 386.3,276.6 386.9,276.1 387.5,276.4 388.1,275.9 388.7,276.4 389.3,275.7 389.9,274.7 390.6,275.2 391.2,274.9 391.8,274.9 392.4,274.2 393.0,274.1 393.6,274.4 394.3,273.7 394.9,273.7 395.5,273.4 396.1,273.8 396.7,273.0 397.3,273.4 398.0,273.5 398.6,273.6 399.2,273.5 399.8,273.1 400.4,273.5 401.0,273.0 401.6,273.2 402.3,272.9 402.9,273.0 403.5,273.3 404.1,273.8 404.7,273.1 405.3,273.0 406.0,273.2 406.6,273.0 407.2,273.4 407.8,273.3 408.4,273.5 409.0,272.9 409.7,273.4 410.3,273.7 410.9,274.1 411.5,274.0 412.1,273.7 412.7,274.3 413.3,274.9 414.0,274.5 414.6,274.8 415.2,275.3 415.8,275.7 416.4,275.9 417.0,276.4 417.7,276.7 418.3,277.5 418.9,277.1 419.5,277.8 420.1,277.6 420.7,279.2 421.3,278.7 422.0,279.0 422.6,279.8 423.2,280.0 423.8,280.3 424.4,280.8 425.0,281.5 425.7,281.9 426.3,282.0 426.9,282.4 427.5,283.2 428.1,283.7 428.7,284.2 429.4,284.4 430.0,285.6 430.6,286.2 431.2,286.3 431.8,287.2 432.4,287.6 433.0,288.0 433.7,288.5 434.3,289.6 434.9,289.7 435.5,291.1 436.1,291.1 436.7,292.4 437.4,293.0 438.0,293.1 438.6,294.2 439.2,295.0 439.8,295.6 440.4,296.0 441.0,296.9 441.7,297.6 442.3,298.0 442.9,299.2 443.5,299.9 444.1,300.6 444.7,300.8 445.4,301.6 446.0,302.2 446.6,303.3 447.2,304.1 447.8,304.6 448.4,305.6 449.1,306.3 449.7,307.1 450.3,307.8 450.9,308.6 451.5,309.3 452.1,310.1 452.7,310.8 453.4,311.5 454.0,312.3 454.6,313.0 455.2,313.8 455.8,314.5 456.4,315.2 457.1,315.9 457.7,316.6 458.3,317.3 458.9,318.0 459.5,318.7 460.1,319.3 460.7,320.0 461.4,320.7 462.0,321.3 462.6,322.0 463.2,322.7 463.8,323.3 464.4,324.0 465.1,324.6 465.7,325.2 466.3,325.9 466.9,326.5 467.5,327.2 468.1,327.8 468.8,328.4 469.4,329.1 470.0,329.7 470.6,330.3 471.2,331.0 471.8,331.6 472.4,332.2 473.1,332.9 473.7,333.5 474.3,334.1 474.9,334.8 475.5,335.4 476.1,336.1 476.8,336.7 477.4,337.3 478.0,338.0 478.6,338.6 479.2,339.3 479.8,339.9 480.5,340.6 481.1,341.2 481.7,341.8 482.3,342.5 482.9,343.1 483.5,343.8 484.1,344.4 484.8,345.1 485.4,345.7 486.0,346.3 486.6,347.0 487.2,347.6 487.8,348.3 488.5,348.9 489.1,349.6 489.7,350.2 490.3,350.8 490.9,351.5 491.5,352.1 492.1,352.8 492.8,353.4 493.4,354.1 494.0,354.7 494.6,355.4 495.2,356.0 495.8,356.7 496.5,357.4 497.1,358.0 497.7,358.7 498.3,359.4 498.9,360.0 499.5,360.7 500.2,361.4 500.8,362.0 501.4,362.7 502.0,363.4 502.6,364.1 503.2,364.8 503.8,365.5 504.5,366.2 505.1,366.8 505.7,367.5 506.3,368.2 506.9,368.9 507.5,369.6 508.2,370.3 508.8,371.0 509.4,371.7 510.0,372.4 510.6,373.0 511.2,373.7 511.8,374.4 512.5,375.1 513.1,375.7 513.7,376.4 514.3,377.1 514.9,377.7 515.5,378.4 516.2,379.0 516.8,379.7 517.4,380.3 518.0,381.0 518.6,381.6 519.2,382.2 519.9,382.9 520.5,383.5 521.1,384.2 521.7,384.8 522.3,385.4 522.9,386.0 523.5,386.7 524.2,387.3 524.8,387.9 525.4,388.5 526.0,389.2 526.6,389.8 527.2,390.4 527.9,391.0 528.5,391.6 529.1,392.2 529.7,392.8 530.3,393.4 530.9,394.0 531.5,394.6 532.2,395.2 532.8,395.8 533.4,396.4 534.0,397.0 534.6,397.6 535.2,398.2 535.9,398.8 536.5,399.4 537.1,399.9 537.7,400.5 538.3,401.1 538.9,401.7 539.6,402.3 540.2,402.8 540.8,403.4 541.4,404.0 542.0,404.6 542.6,405.1 543.2,405.7 543.9,406.3 544.5,406.8 545.1,407.4 545.7,408.0 546.3,408.5 546.9,409.1 547.6,409.6 548.2,410.2 548.8,410.7 549.4,411.3 550.0,411.8 550.6,412.4 551.3,412.9 551.9,413.4 552.5,413.9 553.1,414.5 553.7,415.0 554.3,415.5 554.9,416.0 555.6,416.5 556.2,417.0 556.8,417.5 557.4,418.0 558.0,418.5 558.6,419.0 559.3,419.5 559.9,420.0 560.5,420.5 561.1,421.0 561.7,421.5 562.3,422.0 562.9,422.5 563.6,423.0 564.2,423.5 564.8,424.0 565.4,424.4 566.0,424.9 566.6,425.4 567.3,425.8 567.9,426.3 568.5,426.7 569.1,427.2 569.7,427.6 570.3,428.1 571.0,428.5 571.6,428.9 572.2,429.3 572.8,429.7 573.4,430.1 574.0,430.5 574.6,430.9 575.3,431.2 575.9,431.6 576.5,432.0 577.1,432.3 577.7,432.7 578.3,433.0 579.0,433.3 579.6,433.7 580.2,434.0 580.8,434.3 581.4,434.6 582.0,434.9 582.6,435.2 583.3,435.5 583.9,435.9 584.5,436.1 585.1,436.4 585.7,436.7 586.3,437.0 587.0,437.3 587.6,437.6 588.2,437.9 588.8,438.2 589.4,438.5 590.0,438.8 590.7,439.0 591.3,439.3 591.9,439.6 592.5,439.9 593.1,440.2 593.7,440.5 594.3,440.8 595.0,441.1 595.6,441.3 596.2,441.6 596.8,441.9 597.4,442.2 598.0,442.5 598.7,442.8 599.3,443.1 599.9,443.4 600.5,443.7 601.1,444.0 601.7,444.3 602.3,444.5 603.0,444.8 603.6,445.1 604.2,445.4 604.8,445.7 605.4,446.0 606.0,446.2 606.7,446.5 607.3,446.8 607.9,447.1 608.5,447.3 609.1,447.6 609.7,447.9 610.4,448.1 611.0,448.4 611.6,448.6 612.2,448.9 612.8,449.1 613.4,449.4 614.0,449.6 614.7,449.9 615.3,450.1 615.9,450.3 616.5,450.6 617.1,450.8 617.7,451.1 618.4,451.3 619.0,451.5 619.6,451.7 620.2,452.0 620.8,452.2 621.4,452.4 622.0,452.7 622.7,452.9 623.3,453.1 623.9,453.3 624.5,453.5 625.1,453.7 625.7,454.0 626.4,454.2 627.0,454.4 627.6,454.6 628.2,454.8 628.8,455.0 629.4,455.2 630.1,455.4 630.7,455.6 631.3,455.8 631.9,455.9 632.5,456.1 633.1,456.3 633.7,456.5 634.4,456.7 635.0,456.8 635.6,457.0 636.2,457.2 636.8,457.4 637.4,457.5 638.1,457.7 638.7,457.9 639.3,458.1 639.9,458.2 640.5,458.4 641.1,458.6 641.8,458.7 642.4,458.9 643.0,459.1 643.6,459.2 644.2,459.4 644.8,459.5 645.4,459.7 646.1,459.8 646.7,460.0 647.3,460.1 647.9,460.2 648.5,460.4 649.1,460.5 649.8,460.6 650.4,460.8 651.0,460.9 651.6,461.0 652.2,461.1 652.8,461.2 653.4,461.3 654.1,461.4 654.7,461.6 655.3,461.7 655.9,461.8 656.5,461.9 657.1,462.0 657.8,462.1 658.4,462.2 659.0,462.3 659.6,462.4 660.2,462.4 660.8,462.5 661.5,462.6 662.1,462.7 662.7,462.8 663.3,462.9 663.9,463.0 664.5,463.0 665.1,463.1 665.8,463.2 666.4,463.2 667.0,463.3 667.6,463.4 668.2,463.4 668.8,463.5 669.5,463.6" fill="none" stroke="#3370B9" stroke-width="2.4" stroke-linejoin="round" stroke-linecap="round" clip-path="url(#cl0)"/>
<polyline points="183.1,144.9 189.2,188.3 195.4,224.6 201.6,263.7 207.7,293.4 213.9,319.0 220.0,338.1 226.2,351.9 232.3,360.4 238.5,366.1 244.7,370.8 250.8,375.2 257.0,379.3 263.1,383.0 269.3,386.3 275.4,389.6 281.6,393.0 287.8,396.9 293.9,401.7 300.1,407.5 306.2,413.9 312.4,419.9 318.5,425.9 324.7,431.3 330.8,435.9 337.0,440.1 343.2,444.2 349.3,448.1 355.5,451.5 361.6,454.2 367.8,456.5 373.9,458.4 380.1,460.1 386.3,461.6 392.4,463.0 398.6,464.3 404.7,465.7 410.9,467.1 417.0,468.3 423.2,469.1 429.4,469.7 435.5,470.2 441.7,470.5 447.8,470.7 454.0,470.9 460.1,471.0 466.3,471.1 472.4,471.1" fill="none" stroke="#B5459C" stroke-width="2.4" stroke-linejoin="round" stroke-linecap="round" clip-path="url(#cl0)"/>
<polyline points="164.6,969.3 165.2,969.3 165.9,969.1 166.5,969.0 167.1,968.9 167.7,968.8 168.3,968.7 168.9,968.5 169.5,968.4 170.2,968.2 170.8,968.1 171.4,967.9 172.0,967.7 172.6,967.6 173.2,967.4 173.9,967.2 174.5,967.0 175.1,966.9 175.7,966.7 176.3,966.5 176.9,966.3 177.6,966.1 178.2,965.9 178.8,965.6 179.4,965.4 180.0,965.2 180.6,964.9 181.2,964.7 181.9,964.4 182.5,964.1 183.1,963.8 183.7,963.5 184.3,963.1 184.9,962.8 185.6,962.4 186.2,962.0 186.8,961.5 187.4,961.0 188.0,960.5 188.6,960.0 189.2,959.4 189.9,958.8 190.5,958.2 191.1,957.5 191.7,956.8 192.3,956.1 192.9,955.4 193.6,954.6 194.2,953.8 194.8,952.9 195.4,951.9 196.0,950.9 196.6,949.9 197.3,948.8 197.9,947.7 198.5,946.6 199.1,945.4 199.7,944.2 200.3,942.9 200.9,941.6 201.6,940.2 202.2,938.7 202.8,937.2 203.4,935.6 204.0,934.1 204.6,932.5 205.3,930.9 205.9,929.3 206.5,927.7 207.1,926.0 207.7,924.3 208.3,922.6 208.9,920.7 209.6,918.8 210.2,916.9 210.8,914.8 211.4,912.7 212.0,910.5 212.6,908.2 213.3,905.9 213.9,903.5 214.5,901.1 215.1,898.7 215.7,896.3 216.3,893.8 217.0,891.3 217.6,888.7 218.2,886.0 218.8,883.4 219.4,880.6 220.0,877.9 220.6,875.1 221.3,872.2 221.9,869.4 222.5,866.4 223.1,863.4 223.7,860.3 224.3,857.2 225.0,854.0 225.6,850.9 226.2,847.7 226.8,844.6 227.4,841.5 228.0,838.4 228.6,835.3 229.3,832.2 229.9,829.1 230.5,826.0 231.1,822.9 231.7,819.8 232.3,816.8 233.0,813.8 233.6,810.8 234.2,807.8 234.8,804.9 235.4,801.9 236.0,799.0 236.7,796.1 237.3,793.3 237.9,790.5 238.5,787.8 239.1,785.1 239.7,782.5 240.3,779.9 241.0,777.4 241.6,774.9 242.2,772.4 242.8,770.0 243.4,767.6 244.0,765.3 244.7,763.0 245.3,760.8 245.9,758.6 246.5,756.5 247.1,754.4 247.7,752.3 248.4,750.3 249.0,748.3 249.6,746.4 250.2,744.4 250.8,742.6 251.4,740.7 252.0,738.8 252.7,737.0 253.3,735.2 253.9,733.5 254.5,731.7 255.1,730.1 255.7,728.5 256.4,726.9 257.0,725.4 257.6,723.7 258.2,722.2 258.8,720.6 259.4,719.2 260.0,717.9 260.7,716.9 261.3,716.1 261.9,715.5 262.5,714.9 263.1,714.3 263.7,713.8 264.4,713.3 265.0,712.9 265.6,712.3 266.2,711.6 266.8,713.5 267.4,712.5 268.1,712.7 268.7,712.4 269.3,712.2 269.9,714.6 270.5,710.6 271.1,714.2 271.7,713.6 272.4,713.5 273.0,713.9 273.6,714.8 274.2,717.7 274.8,716.7 275.4,715.7 276.1,717.7 276.7,718.5 277.3,720.3 277.9,718.1 278.5,719.4 279.1,721.4 279.7,721.6 280.4,722.3 281.0,724.0 281.6,724.1 282.2,724.4 282.8,724.9 283.4,725.2 284.1,727.0 284.7,728.2 285.3,728.4 285.9,730.1 286.5,731.5 287.1,730.4 287.8,732.5 288.4,733.0 289.0,733.4 289.6,735.8 290.2,735.2 290.8,736.3 291.4,737.7 292.1,738.2 292.7,740.1 293.3,742.2 293.9,741.6 294.5,743.1 295.1,742.5 295.8,744.0 296.4,745.5 297.0,745.9 297.6,745.7 298.2,746.7 298.8,748.1 299.4,748.8 300.1,750.1 300.7,750.8 301.3,751.0 301.9,752.4 302.5,753.0 303.1,755.1 303.8,756.7 304.4,757.9 305.0,758.1 305.6,758.0 306.2,759.5 306.8,762.7 307.5,764.6 308.1,764.2 308.7,765.9 309.3,768.8 309.9,768.3 310.5,770.5 311.1,771.0 311.8,773.3 312.4,774.8 313.0,776.5 313.6,778.6 314.2,779.9 314.8,781.7 315.5,782.6 316.1,785.0 316.7,786.9 317.3,787.6 317.9,789.1 318.5,790.8 319.2,792.7 319.8,795.5 320.4,797.0 321.0,798.7 321.6,800.3 322.2,803.0 322.8,803.9 323.5,805.6 324.1,807.9 324.7,809.2 325.3,810.6 325.9,812.8 326.5,814.2 327.2,816.0 327.8,818.0 328.4,819.8 329.0,821.9 329.6,823.0 330.2,825.5 330.8,827.3 331.5,828.5 332.1,830.8 332.7,832.1 333.3,833.5 333.9,835.7 334.5,837.4 335.2,838.8 335.8,840.6 336.4,843.2 337.0,844.8 337.6,845.4 338.2,847.4 338.9,850.1 339.5,851.5 340.1,852.5 340.7,854.5 341.3,855.5 341.9,857.3 342.5,858.7 343.2,860.9 343.8,861.7 344.4,862.7 345.0,865.4 345.6,866.0 346.2,867.6 346.9,869.3 347.5,871.0 348.1,872.9 348.7,874.3 349.3,875.0 349.9,876.3 350.5,877.6 351.2,879.1 351.8,880.5 352.4,882.4 353.0,884.1 353.6,884.9 354.2,886.1 354.9,887.6 355.5,889.7 356.1,890.6 356.7,892.4 357.3,893.1 357.9,895.0 358.6,896.0 359.2,897.2 359.8,898.6 360.4,899.5 361.0,901.9 361.6,904.6 362.2,903.5 362.9,904.5 363.5,905.9 364.1,908.3 364.7,909.6 365.3,911.4 365.9,914.1 366.6,915.1 367.2,915.7 367.8,918.1 368.4,917.6 369.0,921.9 369.6,922.4 370.2,922.5 370.9,925.2 371.5,926.9 372.1,928.3 372.7,928.9 373.3,928.3 373.9,930.3 374.6,931.3 375.2,933.3 375.8,933.2 376.4,934.8 377.0,936.7 377.6,937.3 378.3,937.7 378.9,937.8 379.5,939.7 380.1,940.1 380.7,939.6 381.3,942.8 381.9,943.9 382.6,942.8 383.2,944.0 383.8,945.2 384.4,945.6 385.0,946.8 385.6,946.9 386.3,948.3 386.9,948.1 387.5,950.4 388.1,950.9 388.7,950.8 389.3,952.0 389.9,951.8 390.6,953.1 391.2,954.2 391.8,954.3 392.4,955.6 393.0,957.1 393.6,957.4 394.3,957.7 394.9,958.0 395.5,958.2 396.1,958.1 396.7,958.9 397.3,958.5 398.0,959.4 398.6,961.1 399.2,960.2 399.8,961.1 400.4,962.9 401.0,962.8 401.6,962.7 402.3,963.9 402.9,963.8 403.5,964.9 404.1,965.3 404.7,966.7 405.3,966.8 406.0,968.0 406.6,967.7 407.2,969.3 407.8,969.1 408.4,969.3 409.0,969.3 409.7,969.3 410.3,969.3 410.9,969.3 411.5,969.3 412.1,969.3 412.7,969.3 413.3,969.3 414.0,969.3 414.6,969.3 415.2,969.3 415.8,969.3 416.4,969.3 417.0,969.3 417.7,969.3 418.3,969.3 418.9,969.3 419.5,969.3 420.1,969.3 420.7,969.3 421.3,969.3 422.0,969.3 422.6,969.3 423.2,969.3 423.8,969.3 424.4,969.3 425.0,969.3 425.7,969.3 426.3,969.3 426.9,969.3 427.5,969.3 428.1,969.3 428.7,969.3 429.4,969.3 430.0,969.3 430.6,969.3 431.2,969.3 431.8,969.3 432.4,969.3 433.0,969.3 433.7,969.3 434.3,969.3 434.9,969.3 435.5,969.3 436.1,969.3 436.7,969.3 437.4,969.3 438.0,969.3 438.6,969.3 439.2,969.3 439.8,969.3 440.4,969.3 441.0,969.3 441.7,969.3 442.3,969.3 442.9,969.3 443.5,969.3 444.1,969.3 444.7,969.3 445.4,969.3 446.0,969.3 446.6,969.3 447.2,969.3 447.8,969.3 448.4,969.3 449.1,969.3 449.7,969.3 450.3,969.3 450.9,969.3 451.5,969.3 452.1,969.3 452.7,969.3 453.4,969.3 454.0,969.3 454.6,969.3 455.2,969.3 455.8,969.3 456.4,969.3 457.1,969.3 457.7,969.3 458.3,969.3 458.9,969.3 459.5,969.3 460.1,969.3 460.7,969.3 461.4,969.3 462.0,969.3 462.6,969.3 463.2,969.3 463.8,969.3 464.4,969.3 465.1,969.3 465.7,969.3 466.3,969.3 466.9,969.3 467.5,969.3 468.1,969.3 468.8,969.3 469.4,969.3 470.0,969.3 470.6,969.3 471.2,969.3 471.8,969.3 472.4,969.3 473.1,969.3 473.7,969.3 474.3,969.3 474.9,969.3 475.5,969.2 476.1,969.1 476.8,969.0 477.4,969.0 478.0,968.9 478.6,968.8 479.2,968.7 479.8,968.6 480.5,968.5 481.1,968.4 481.7,968.3 482.3,968.2 482.9,968.1 483.5,968.1 484.1,968.0 484.8,968.0 485.4,968.0 486.0,968.0 486.6,968.0 487.2,968.0 487.8,968.1 488.5,968.1 489.1,968.2 489.7,968.3 490.3,968.4 490.9,968.5 491.5,968.5 492.1,968.6 492.8,968.7 493.4,968.8 494.0,968.9 494.6,969.0 495.2,969.1 495.8,969.1 496.5,969.2 497.1,969.3 497.7,969.3 498.3,969.3 498.9,969.3 499.5,969.3 500.2,969.3 500.8,969.3 501.4,969.2 502.0,969.1 502.6,968.9 503.2,968.8 503.8,968.7 504.5,968.5 505.1,968.4 505.7,968.2 506.3,968.0 506.9,967.9 507.5,967.7 508.2,967.6 508.8,967.4 509.4,967.3 510.0,967.2 510.6,967.0 511.2,966.9 511.8,966.8 512.5,966.7 513.1,966.5 513.7,966.4 514.3,966.3 514.9,966.1 515.5,966.0 516.2,965.9 516.8,965.7 517.4,965.6 518.0,965.5 518.6,965.4 519.2,965.2 519.9,965.1 520.5,965.0 521.1,964.8 521.7,964.7 522.3,964.6 522.9,964.4 523.5,964.3 524.2,964.2 524.8,964.0 525.4,963.9 526.0,963.8 526.6,963.6 527.2,963.5 527.9,963.4 528.5,963.2 529.1,963.1 529.7,963.0 530.3,962.8 530.9,962.7 531.5,962.5 532.2,962.4 532.8,962.3 533.4,962.1 534.0,962.0 534.6,961.9 535.2,961.7 535.9,961.6 536.5,961.4 537.1,961.3 537.7,961.1 538.3,961.0 538.9,960.9 539.6,960.7 540.2,960.6 540.8,960.4 541.4,960.2 542.0,960.1 542.6,959.9 543.2,959.7 543.9,959.6 544.5,959.4 545.1,959.2 545.7,959.1 546.3,958.9 546.9,958.7 547.6,958.5 548.2,958.4 548.8,958.2 549.4,958.0 550.0,957.8 550.6,957.7 551.3,957.5 551.9,957.3 552.5,957.1 553.1,957.0 553.7,956.8 554.3,956.6 554.9,956.5 555.6,956.3 556.2,956.2 556.8,956.0 557.4,955.8 558.0,955.7 558.6,955.5 559.3,955.4 559.9,955.2 560.5,955.1 561.1,954.9 561.7,954.8 562.3,954.6 562.9,954.5 563.6,954.3 564.2,954.2 564.8,954.0 565.4,953.9 566.0,953.7 566.6,953.6 567.3,953.4 567.9,953.3 568.5,953.1 569.1,953.0 569.7,952.8 570.3,952.6 571.0,952.5 571.6,952.3 572.2,952.1 572.8,952.0 573.4,951.8 574.0,951.7 574.6,951.5 575.3,951.3 575.9,951.2 576.5,951.0 577.1,950.8 577.7,950.7 578.3,950.5 579.0,950.3 579.6,950.1 580.2,950.0 580.8,949.8 581.4,949.6 582.0,949.4 582.6,949.2 583.3,949.1 583.9,948.9 584.5,948.7 585.1,948.5 585.7,948.3 586.3,948.1 587.0,947.9 587.6,947.6 588.2,947.4 588.8,947.2 589.4,946.9 590.0,946.7 590.7,946.4 591.3,946.2 591.9,945.9 592.5,945.6 593.1,945.4 593.7,945.1 594.3,944.8 595.0,944.5 595.6,944.3 596.2,944.0 596.8,943.7 597.4,943.5 598.0,943.2 598.7,943.0 599.3,942.7 599.9,942.4 600.5,942.2 601.1,941.9 601.7,941.6 602.3,941.4 603.0,941.1 603.6,940.8 604.2,940.5 604.8,940.3 605.4,940.0 606.0,939.8 606.7,939.5 607.3,939.3 607.9,939.0 608.5,938.8 609.1,938.5 609.7,938.3 610.4,938.1 611.0,937.9 611.6,937.7 612.2,937.5 612.8,937.2 613.4,937.0 614.0,936.8 614.7,936.6 615.3,936.4 615.9,936.2 616.5,936.1 617.1,935.9 617.7,935.7 618.4,935.6 619.0,935.5 619.6,935.3 620.2,935.2 620.8,935.1 621.4,935.0 622.0,934.9 622.7,934.8 623.3,934.7 623.9,934.6 624.5,934.5 625.1,934.4 625.7,934.4 626.4,934.3 627.0,934.2 627.6,934.1 628.2,934.1 628.8,934.0 629.4,933.9 630.1,933.9 630.7,933.8 631.3,933.8 631.9,933.8 632.5,933.8 633.1,933.8 633.7,933.8 634.4,933.8 635.0,933.8 635.6,933.8 636.2,933.8 636.8,933.9 637.4,933.9 638.1,933.9 638.7,934.0 639.3,934.0 639.9,934.1 640.5,934.1 641.1,934.2 641.8,934.2 642.4,934.3 643.0,934.3 643.6,934.4 644.2,934.5 644.8,934.5 645.4,934.6 646.1,934.7 646.7,934.8 647.3,934.9 647.9,935.0 648.5,935.1 649.1,935.2 649.8,935.3 650.4,935.5 651.0,935.6 651.6,935.8 652.2,935.9 652.8,936.0 653.4,936.2 654.1,936.3 654.7,936.5 655.3,936.6 655.9,936.7 656.5,936.9 657.1,937.0 657.8,937.1 658.4,937.2 659.0,937.3 659.6,937.4 660.2,937.6 660.8,937.7 661.5,937.8 662.1,937.9 662.7,938.0 663.3,938.1 663.9,938.2 664.5,938.3 665.1,938.5 665.8,938.6 666.4,938.7 667.0,938.8 667.6,938.9 668.2,939.0 668.8,939.1 669.5,939.2" fill="none" stroke="#3370B9" stroke-width="2.4" stroke-linejoin="round" stroke-linecap="round" clip-path="url(#cl1)"/>
<polyline points="183.1,725.5 189.2,712.5 195.4,700.7 201.6,697.1 207.7,713.7 213.9,740.9 220.0,770.6 226.2,804.3 232.3,832.1 238.5,858.6 244.7,880.2 250.8,897.8 257.0,912.1 263.1,924.5 269.3,935.1 275.4,944.3 281.6,952.5 287.8,959.5 293.9,966.2 300.1,969.3 306.2,969.3 312.4,969.3 318.5,969.3 324.7,969.3 330.8,969.3 337.0,969.3 343.2,969.3 349.3,969.3 355.5,969.3 361.6,969.3 367.8,969.3 373.9,969.3 380.1,969.3 386.3,969.3 392.4,969.3 398.6,969.3 404.7,969.3 410.9,969.3 417.0,969.3 423.2,969.3 429.4,969.3 435.5,969.3 441.7,969.3 447.8,969.3 454.0,969.3 460.1,969.3 466.3,969.3 472.4,969.3" fill="none" stroke="#B5459C" stroke-width="2.4" stroke-linejoin="round" stroke-linecap="round" clip-path="url(#cl1)"/>
<polyline points="164.6,1460.9 165.2,1460.6 165.9,1460.3 166.5,1460.0 167.1,1459.7 167.7,1459.4 168.3,1459.1 168.9,1458.8 169.5,1458.5 170.2,1458.1 170.8,1457.8 171.4,1457.5 172.0,1457.2 172.6,1456.8 173.2,1456.5 173.9,1456.1 174.5,1455.8 175.1,1455.4 175.7,1455.1 176.3,1454.7 176.9,1454.4 177.6,1454.0 178.2,1453.6 178.8,1453.3 179.4,1452.9 180.0,1452.5 180.6,1452.1 181.2,1451.7 181.9,1451.3 182.5,1451.0 183.1,1450.6 183.7,1450.2 184.3,1449.8 184.9,1449.4 185.6,1449.0 186.2,1448.6 186.8,1448.2 187.4,1447.8 188.0,1447.4 188.6,1447.0 189.2,1446.6 189.9,1446.1 190.5,1445.7 191.1,1445.3 191.7,1444.9 192.3,1444.5 192.9,1444.1 193.6,1443.6 194.2,1443.2 194.8,1442.9 195.4,1442.5 196.0,1442.1 196.6,1441.7 197.3,1441.4 197.9,1441.0 198.5,1440.6 199.1,1440.3 199.7,1439.9 200.3,1439.6 200.9,1439.2 201.6,1438.9 202.2,1438.5 202.8,1438.2 203.4,1437.9 204.0,1437.6 204.6,1437.3 205.3,1437.0 205.9,1436.8 206.5,1436.5 207.1,1436.3 207.7,1436.1 208.3,1435.8 208.9,1435.6 209.6,1435.4 210.2,1435.2 210.8,1435.0 211.4,1434.8 212.0,1434.6 212.6,1434.5 213.3,1434.3 213.9,1434.2 214.5,1434.1 215.1,1434.0 215.7,1433.9 216.3,1433.8 217.0,1433.7 217.6,1433.6 218.2,1433.5 218.8,1433.4 219.4,1433.4 220.0,1433.3 220.6,1433.3 221.3,1433.3 221.9,1433.3 222.5,1433.3 223.1,1433.4 223.7,1433.5 224.3,1433.6 225.0,1433.8 225.6,1433.9 226.2,1434.1 226.8,1434.2 227.4,1434.4 228.0,1434.6 228.6,1434.8 229.3,1435.1 229.9,1435.4 230.5,1435.8 231.1,1436.2 231.7,1436.6 232.3,1437.0 233.0,1437.5 233.6,1438.0 234.2,1438.5 234.8,1439.0 235.4,1439.5 236.0,1440.0 236.7,1440.6 237.3,1441.1 237.9,1441.7 238.5,1442.4 239.1,1443.0 239.7,1443.7 240.3,1444.3 241.0,1445.0 241.6,1445.7 242.2,1446.4 242.8,1447.1 243.4,1447.9 244.0,1448.7 244.7,1449.5 245.3,1450.3 245.9,1451.1 246.5,1451.9 247.1,1452.7 247.7,1453.6 248.4,1454.4 249.0,1455.2 249.6,1456.0 250.2,1456.8 250.8,1457.6 251.4,1458.5 252.0,1459.3 252.7,1460.0 253.3,1460.8 253.9,1461.5 254.5,1462.1 255.1,1462.8 255.7,1463.5 256.4,1464.2 257.0,1464.9 257.6,1465.5 258.2,1465.9 258.8,1466.2 259.4,1466.2 260.0,1466.2 260.7,1466.2 261.3,1466.2 261.9,1466.2 262.5,1466.2 263.1,1466.2 263.7,1466.2 264.4,1466.2 265.0,1466.2 265.6,1466.2 266.2,1466.2 266.8,1466.2 267.4,1466.2 268.1,1466.2 268.7,1466.2 269.3,1466.2 269.9,1466.2 270.5,1466.2 271.1,1466.2 271.7,1466.2 272.4,1466.2 273.0,1466.2 273.6,1466.2 274.2,1466.2 274.8,1466.2 275.4,1466.2 276.1,1466.2 276.7,1466.2 277.3,1466.2 277.9,1466.2 278.5,1466.2 279.1,1466.2 279.7,1466.2 280.4,1466.2 281.0,1466.2 281.6,1466.2 282.2,1466.2 282.8,1466.2 283.4,1466.2 284.1,1466.2 284.7,1466.2 285.3,1466.2 285.9,1466.2 286.5,1466.2 287.1,1466.2 287.8,1466.2 288.4,1466.2 289.0,1466.2 289.6,1466.2 290.2,1466.2 290.8,1466.2 291.4,1466.2 292.1,1466.1 292.7,1466.1 293.3,1466.0 293.9,1465.9 294.5,1465.9 295.1,1465.5 295.8,1464.5 296.4,1466.2 297.0,1466.0 297.6,1465.3 298.2,1465.2 298.8,1465.4 299.4,1465.6 300.1,1464.1 300.7,1465.5 301.3,1465.1 301.9,1463.5 302.5,1463.2 303.1,1463.7 303.8,1464.8 304.4,1464.7 305.0,1464.7 305.6,1464.8 306.2,1464.1 306.8,1462.8 307.5,1463.5 308.1,1464.1 308.7,1464.0 309.3,1464.2 309.9,1462.4 310.5,1464.6 311.1,1462.9 311.8,1464.0 312.4,1463.7 313.0,1463.9 313.6,1462.0 314.2,1462.7 314.8,1460.6 315.5,1463.2 316.1,1463.1 316.7,1461.8 317.3,1461.7 317.9,1462.2 318.5,1463.3 319.2,1460.7 319.8,1461.3 320.4,1461.3 321.0,1461.9 321.6,1460.8 322.2,1461.6 322.8,1461.0 323.5,1461.1 324.1,1459.9 324.7,1461.0 325.3,1460.8 325.9,1459.6 326.5,1460.1 327.2,1460.1 327.8,1460.1 328.4,1459.1 329.0,1460.1 329.6,1459.1 330.2,1457.9 330.8,1458.9 331.5,1459.5 332.1,1459.7 332.7,1458.5 333.3,1459.3 333.9,1459.4 334.5,1458.7 335.2,1458.7 335.8,1457.1 336.4,1458.6 337.0,1456.2 337.6,1457.7 338.2,1456.9 338.9,1456.3 339.5,1456.4 340.1,1455.8 340.7,1456.8 341.3,1457.5 341.9,1455.7 342.5,1456.5 343.2,1455.5 343.8,1454.1 344.4,1454.6 345.0,1454.6 345.6,1454.6 346.2,1453.6 346.9,1453.1 347.5,1453.6 348.1,1451.8 348.7,1452.3 349.3,1450.9 349.9,1450.9 350.5,1449.4 351.2,1449.1 351.8,1449.2 352.4,1448.8 353.0,1448.0 353.6,1446.9 354.2,1446.8 354.9,1447.0 355.5,1446.5 356.1,1445.3 356.7,1447.2 357.3,1445.3 357.9,1446.0 358.6,1444.1 359.2,1445.0 359.8,1444.4 360.4,1444.7 361.0,1443.6 361.6,1442.6 362.2,1441.6 362.9,1443.3 363.5,1442.3 364.1,1438.7 364.7,1440.3 365.3,1440.5 365.9,1439.6 366.6,1441.4 367.2,1437.8 367.8,1438.3 368.4,1438.9 369.0,1436.4 369.6,1437.1 370.2,1436.8 370.9,1435.1 371.5,1434.6 372.1,1434.6 372.7,1433.7 373.3,1433.9 373.9,1433.4 374.6,1431.0 375.2,1429.9 375.8,1429.8 376.4,1429.0 377.0,1428.6 377.6,1427.2 378.3,1426.3 378.9,1422.8 379.5,1422.9 380.1,1420.8 380.7,1419.9 381.3,1419.9 381.9,1416.6 382.6,1417.4 383.2,1417.0 383.8,1415.6 384.4,1415.7 385.0,1414.4 385.6,1414.4 386.3,1412.6 386.9,1412.3 387.5,1412.5 388.1,1409.9 388.7,1409.6 389.3,1409.5 389.9,1407.4 390.6,1406.2 391.2,1403.9 391.8,1404.6 392.4,1402.0 393.0,1401.4 393.6,1399.5 394.3,1398.8 394.9,1397.4 395.5,1395.6 396.1,1395.5 396.7,1394.8 397.3,1391.9 398.0,1390.8 398.6,1389.0 399.2,1387.0 399.8,1386.1 400.4,1383.4 401.0,1382.5 401.6,1380.5 402.3,1378.0 402.9,1376.1 403.5,1374.4 404.1,1372.1 404.7,1370.6 405.3,1368.3 406.0,1365.6 406.6,1362.9 407.2,1361.7 407.8,1358.6 408.4,1355.6 409.0,1353.2 409.7,1352.5 410.3,1349.5 410.9,1347.4 411.5,1344.9 412.1,1342.5 412.7,1340.2 413.3,1337.5 414.0,1335.4 414.6,1333.1 415.2,1330.1 415.8,1327.3 416.4,1323.9 417.0,1321.7 417.7,1318.5 418.3,1314.9 418.9,1313.3 419.5,1309.3 420.1,1305.2 420.7,1302.1 421.3,1299.4 422.0,1294.8 422.6,1292.3 423.2,1289.8 423.8,1284.6 424.4,1283.9 425.0,1280.0 425.7,1277.6 426.3,1274.3 426.9,1271.4 427.5,1269.9 428.1,1266.9 428.7,1264.5 429.4,1262.6 430.0,1258.5 430.6,1256.6 431.2,1254.2 431.8,1251.6 432.4,1248.3 433.0,1244.9 433.7,1242.2 434.3,1237.8 434.9,1237.4 435.5,1233.9 436.1,1229.4 436.7,1227.5 437.4,1223.3 438.0,1220.7 438.6,1216.8 439.2,1213.9 439.8,1210.3 440.4,1207.7 441.0,1204.6 441.7,1202.3 442.3,1199.3 442.9,1197.2 443.5,1195.5 444.1,1193.5 444.7,1191.2 445.4,1187.7 446.0,1187.6 446.6,1183.6 447.2,1182.4 447.8,1179.4 448.4,1178.0 449.1,1176.9 449.7,1174.7 450.3,1174.9 450.9,1171.7 451.5,1170.5 452.1,1171.2 452.7,1168.5 453.4,1168.5 454.0,1167.7 454.6,1167.3 455.2,1166.5 455.8,1165.9 456.4,1165.6 457.1,1165.5 457.7,1164.4 458.3,1164.1 458.9,1164.5 459.5,1164.5 460.1,1165.4 460.7,1165.6 461.4,1166.0 462.0,1166.6 462.6,1166.2 463.2,1168.2 463.8,1169.9 464.4,1170.9 465.1,1173.3 465.7,1174.4 466.3,1175.8 466.9,1178.0 467.5,1179.6 468.1,1181.3 468.8,1183.2 469.4,1185.2 470.0,1187.3 470.6,1189.6 471.2,1192.0 471.8,1194.5 472.4,1197.2 473.1,1200.0 473.7,1202.9 474.3,1205.9 474.9,1209.1 475.5,1212.4 476.1,1215.9 476.8,1219.4 477.4,1223.0 478.0,1226.5 478.6,1230.1 479.2,1233.8 479.8,1237.5 480.5,1241.3 481.1,1245.0 481.7,1248.7 482.3,1252.4 482.9,1256.2 483.5,1259.9 484.1,1263.6 484.8,1267.3 485.4,1270.9 486.0,1274.5 486.6,1278.1 487.2,1281.8 487.8,1285.4 488.5,1288.9 489.1,1292.4 489.7,1295.9 490.3,1299.3 490.9,1302.6 491.5,1305.8 492.1,1308.9 492.8,1311.9 493.4,1315.0 494.0,1317.9 494.6,1320.8 495.2,1323.6 495.8,1326.4 496.5,1329.0 497.1,1331.6 497.7,1334.1 498.3,1336.6 498.9,1339.0 499.5,1341.3 500.2,1343.6 500.8,1345.8 501.4,1348.0 502.0,1350.1 502.6,1352.2 503.2,1354.2 503.8,1356.2 504.5,1358.1 505.1,1360.1 505.7,1361.9 506.3,1363.8 506.9,1365.6 507.5,1367.3 508.2,1369.1 508.8,1370.8 509.4,1372.5 510.0,1374.1 510.6,1375.8 511.2,1377.4 511.8,1379.0 512.5,1380.5 513.1,1382.1 513.7,1383.6 514.3,1385.1 514.9,1386.6 515.5,1388.0 516.2,1389.4 516.8,1390.8 517.4,1392.2 518.0,1393.5 518.6,1394.9 519.2,1396.2 519.9,1397.5 520.5,1398.8 521.1,1400.1 521.7,1401.3 522.3,1402.6 522.9,1403.8 523.5,1404.9 524.2,1406.1 524.8,1407.2 525.4,1408.3 526.0,1409.4 526.6,1410.4 527.2,1411.4 527.9,1412.3 528.5,1413.3 529.1,1414.2 529.7,1415.1 530.3,1416.0 530.9,1416.9 531.5,1417.7 532.2,1418.5 532.8,1419.4 533.4,1420.2 534.0,1421.0 534.6,1421.7 535.2,1422.5 535.9,1423.3 536.5,1424.0 537.1,1424.8 537.7,1425.5 538.3,1426.3 538.9,1427.0 539.6,1427.7 540.2,1428.5 540.8,1429.2 541.4,1429.8 542.0,1430.5 542.6,1431.2 543.2,1431.8 543.9,1432.4 544.5,1433.0 545.1,1433.6 545.7,1434.2 546.3,1434.7 546.9,1435.3 547.6,1435.8 548.2,1436.3 548.8,1436.8 549.4,1437.3 550.0,1437.8 550.6,1438.2 551.3,1438.7 551.9,1439.1 552.5,1439.6 553.1,1440.0 553.7,1440.4 554.3,1440.8 554.9,1441.1 555.6,1441.5 556.2,1441.8 556.8,1442.2 557.4,1442.5 558.0,1442.8 558.6,1443.1 559.3,1443.4 559.9,1443.7 560.5,1444.0 561.1,1444.3 561.7,1444.5 562.3,1444.8 562.9,1445.1 563.6,1445.3 564.2,1445.5 564.8,1445.8 565.4,1446.0 566.0,1446.2 566.6,1446.4 567.3,1446.6 567.9,1446.8 568.5,1447.0 569.1,1447.2 569.7,1447.4 570.3,1447.6 571.0,1447.8 571.6,1448.0 572.2,1448.1 572.8,1448.3 573.4,1448.5 574.0,1448.6 574.6,1448.8 575.3,1448.9 575.9,1449.1 576.5,1449.2 577.1,1449.3 577.7,1449.5 578.3,1449.6 579.0,1449.7 579.6,1449.8 580.2,1449.9 580.8,1450.0 581.4,1450.1 582.0,1450.3 582.6,1450.4 583.3,1450.5 583.9,1450.6 584.5,1450.8 585.1,1450.9 585.7,1451.0 586.3,1451.2 587.0,1451.3 587.6,1451.4 588.2,1451.6 588.8,1451.7 589.4,1451.8 590.0,1452.0 590.7,1452.1 591.3,1452.3 591.9,1452.4 592.5,1452.6 593.1,1452.8 593.7,1452.9 594.3,1453.1 595.0,1453.3 595.6,1453.5 596.2,1453.7 596.8,1454.0 597.4,1454.2 598.0,1454.4 598.7,1454.7 599.3,1455.0 599.9,1455.2 600.5,1455.5 601.1,1455.7 601.7,1456.0 602.3,1456.3 603.0,1456.5 603.6,1456.8 604.2,1457.0 604.8,1457.3 605.4,1457.5 606.0,1457.8 606.7,1458.1 607.3,1458.3 607.9,1458.6 608.5,1458.8 609.1,1459.1 609.7,1459.3 610.4,1459.6 611.0,1459.8 611.6,1460.1 612.2,1460.3 612.8,1460.5 613.4,1460.8 614.0,1461.0 614.7,1461.2 615.3,1461.4 615.9,1461.6 616.5,1461.8 617.1,1462.0 617.7,1462.2 618.4,1462.4 619.0,1462.6 619.6,1462.8 620.2,1463.0 620.8,1463.2 621.4,1463.4 622.0,1463.6 622.7,1463.7 623.3,1463.9 623.9,1464.1 624.5,1464.3 625.1,1464.5 625.7,1464.8 626.4,1465.0 627.0,1465.2 627.6,1465.5 628.2,1465.7 628.8,1465.9 629.4,1466.0 630.1,1466.1 630.7,1466.2 631.3,1466.2 631.9,1466.2 632.5,1466.2 633.1,1466.2 633.7,1466.2 634.4,1466.2 635.0,1466.2 635.6,1466.2 636.2,1466.2 636.8,1466.2 637.4,1466.2 638.1,1466.2 638.7,1466.2 639.3,1466.2 639.9,1466.2 640.5,1466.2 641.1,1466.2 641.8,1466.2 642.4,1466.2 643.0,1466.2 643.6,1466.2 644.2,1466.2 644.8,1466.2 645.4,1466.2 646.1,1466.2 646.7,1466.2 647.3,1466.2 647.9,1466.2 648.5,1466.2 649.1,1466.2 649.8,1466.2 650.4,1466.2 651.0,1466.2 651.6,1466.2 652.2,1466.2 652.8,1466.2 653.4,1466.2 654.1,1466.2 654.7,1466.2 655.3,1466.2 655.9,1466.2 656.5,1466.2 657.1,1466.2 657.8,1466.2 658.4,1466.2 659.0,1466.2 659.6,1466.2 660.2,1466.2 660.8,1466.2 661.5,1466.2 662.1,1466.2 662.7,1466.2 663.3,1466.2 663.9,1466.2 664.5,1466.2 665.1,1466.2 665.8,1466.2 666.4,1466.2 667.0,1466.2 667.6,1466.2 668.2,1466.2 668.8,1466.2 669.5,1466.2" fill="none" stroke="#3370B9" stroke-width="2.4" stroke-linejoin="round" stroke-linecap="round" clip-path="url(#cl2)"/>
<polyline points="183.1,1068.7 189.2,1085.9 195.4,1134.7 201.6,1222.7 207.7,1330.3 213.9,1404.3 220.0,1437.9 226.2,1454.0 232.3,1461.8 238.5,1466.2 244.7,1466.2 250.8,1466.2 257.0,1466.2 263.1,1466.2 269.3,1466.2 275.4,1466.1 281.6,1464.0 287.8,1461.3 293.9,1458.4 300.1,1455.5 306.2,1453.0 312.4,1450.9 318.5,1449.4 324.7,1448.6 330.8,1448.0 337.0,1447.1 343.2,1446.9 349.3,1447.2 355.5,1448.5 361.6,1449.5 367.8,1450.5 373.9,1451.5 380.1,1452.4 386.3,1453.1 392.4,1453.8 398.6,1454.4 404.7,1454.9 410.9,1455.4 417.0,1455.6 423.2,1455.8 429.4,1456.2 435.5,1457.3 441.7,1458.2 447.8,1459.2 454.0,1460.1 460.1,1460.9 466.3,1461.7 472.4,1462.5" fill="none" stroke="#B5459C" stroke-width="2.4" stroke-linejoin="round" stroke-linecap="round" clip-path="url(#cl2)"/>
<polyline points="164.6,1963.1 165.2,1963.1 165.9,1963.1 166.5,1963.1 167.1,1963.1 167.7,1963.1 168.3,1963.1 168.9,1963.1 169.5,1963.1 170.2,1963.1 170.8,1963.1 171.4,1963.1 172.0,1963.1 172.6,1963.1 173.2,1963.1 173.9,1963.1 174.5,1963.1 175.1,1963.1 175.7,1963.1 176.3,1963.1 176.9,1963.1 177.6,1963.1 178.2,1963.1 178.8,1963.1 179.4,1963.1 180.0,1963.1 180.6,1963.1 181.2,1963.1 181.9,1963.1 182.5,1963.1 183.1,1963.1 183.7,1963.1 184.3,1963.1 184.9,1963.1 185.6,1963.1 186.2,1963.1 186.8,1963.1 187.4,1963.1 188.0,1963.1 188.6,1963.1 189.2,1963.1 189.9,1963.1 190.5,1963.1 191.1,1963.1 191.7,1963.1 192.3,1963.1 192.9,1963.1 193.6,1963.1 194.2,1963.1 194.8,1963.1 195.4,1963.1 196.0,1963.1 196.6,1963.1 197.3,1963.1 197.9,1963.1 198.5,1963.1 199.1,1963.1 199.7,1963.1 200.3,1963.1 200.9,1963.1 201.6,1963.1 202.2,1963.1 202.8,1963.1 203.4,1963.1 204.0,1963.1 204.6,1963.1 205.3,1963.1 205.9,1963.1 206.5,1963.1 207.1,1963.1 207.7,1963.1 208.3,1963.1 208.9,1963.1 209.6,1963.1 210.2,1963.1 210.8,1963.1 211.4,1963.1 212.0,1963.1 212.6,1963.1 213.3,1963.1 213.9,1963.1 214.5,1963.1 215.1,1963.1 215.7,1963.1 216.3,1963.1 217.0,1963.1 217.6,1963.1 218.2,1963.1 218.8,1963.1 219.4,1963.1 220.0,1963.1 220.6,1963.1 221.3,1963.1 221.9,1963.1 222.5,1963.1 223.1,1963.1 223.7,1963.1 224.3,1963.1 225.0,1963.1 225.6,1963.1 226.2,1963.1 226.8,1963.1 227.4,1963.1 228.0,1963.1 228.6,1963.1 229.3,1963.1 229.9,1963.1 230.5,1963.1 231.1,1963.1 231.7,1963.1 232.3,1963.1 233.0,1963.1 233.6,1963.1 234.2,1963.1 234.8,1963.1 235.4,1963.1 236.0,1963.1 236.7,1963.1 237.3,1963.1 237.9,1963.1 238.5,1963.1 239.1,1963.1 239.7,1963.1 240.3,1963.1 241.0,1963.1 241.6,1963.0 242.2,1962.5 242.8,1962.0 243.4,1961.4 244.0,1962.0 244.7,1961.2 245.3,1960.5 245.9,1959.7 246.5,1959.8 247.1,1959.0 247.7,1958.7 248.4,1958.3 249.0,1958.6 249.6,1957.9 250.2,1957.6 250.8,1957.5 251.4,1956.7 252.0,1957.0 252.7,1956.2 253.3,1956.7 253.9,1955.8 254.5,1955.7 255.1,1956.4 255.7,1955.9 256.4,1955.8 257.0,1956.1 257.6,1955.4 258.2,1955.4 258.8,1955.7 259.4,1955.4 260.0,1955.0 260.7,1955.3 261.3,1955.4 261.9,1954.6 262.5,1955.3 263.1,1954.9 263.7,1954.6 264.4,1954.6 265.0,1955.4 265.6,1955.0 266.2,1954.9 266.8,1954.9 267.4,1954.7 268.1,1954.8 268.7,1955.0 269.3,1955.0 269.9,1954.8 270.5,1954.9 271.1,1955.9 271.7,1954.8 272.4,1955.7 273.0,1955.4 273.6,1956.3 274.2,1956.0 274.8,1956.4 275.4,1955.8 276.1,1956.0 276.7,1956.4 277.3,1956.6 277.9,1956.6 278.5,1957.2 279.1,1957.3 279.7,1957.5 280.4,1957.2 281.0,1957.6 281.6,1958.1 282.2,1957.8 282.8,1957.9 283.4,1957.8 284.1,1958.5 284.7,1958.4 285.3,1958.0 285.9,1958.9 286.5,1959.1 287.1,1958.9 287.8,1959.3 288.4,1959.3 289.0,1959.5 289.6,1959.5 290.2,1959.0 290.8,1959.4 291.4,1959.5 292.1,1959.2 292.7,1959.0 293.3,1958.8 293.9,1958.4 294.5,1958.0 295.1,1958.8 295.8,1958.3 296.4,1958.6 297.0,1957.8 297.6,1957.4 298.2,1957.5 298.8,1957.1 299.4,1956.7 300.1,1956.3 300.7,1955.0 301.3,1954.0 301.9,1954.3 302.5,1952.7 303.1,1952.4 303.8,1951.5 304.4,1950.6 305.0,1949.6 305.6,1948.6 306.2,1947.6 306.8,1946.5 307.5,1945.4 308.1,1944.2 308.7,1942.9 309.3,1941.6 309.9,1940.3 310.5,1938.9 311.1,1937.6 311.8,1936.2 312.4,1934.7 313.0,1933.2 313.6,1931.6 314.2,1930.0 314.8,1928.2 315.5,1926.3 316.1,1924.3 316.7,1922.2 317.3,1919.9 317.9,1917.6 318.5,1915.2 319.2,1912.8 319.8,1910.3 320.4,1907.6 321.0,1904.9 321.6,1902.1 322.2,1899.2 322.8,1896.1 323.5,1893.0 324.1,1889.7 324.7,1886.3 325.3,1882.6 325.9,1878.7 326.5,1874.7 327.2,1870.5 327.8,1866.3 328.4,1862.0 329.0,1857.6 329.6,1853.1 330.2,1848.5 330.8,1843.8 331.5,1839.0 332.1,1834.3 332.7,1829.5 333.3,1824.6 333.9,1819.7 334.5,1814.7 335.2,1809.7 335.8,1804.8 336.4,1799.8 337.0,1794.8 337.6,1789.7 338.2,1784.6 338.9,1779.7 339.5,1774.9 340.1,1770.4 340.7,1766.1 341.3,1762.0 341.9,1758.0 342.5,1754.1 343.2,1750.2 343.8,1746.4 344.4,1742.6 345.0,1738.8 345.6,1735.1 346.2,1731.4 346.9,1727.7 347.5,1724.1 348.1,1720.6 348.7,1717.0 349.3,1713.5 349.9,1710.0 350.5,1706.6 351.2,1703.4 351.8,1700.5 352.4,1697.7 353.0,1695.0 353.6,1692.4 354.2,1690.0 354.9,1687.7 355.5,1686.0 356.1,1684.3 356.7,1681.4 357.3,1680.4 357.9,1679.0 358.6,1677.2 359.2,1676.5 359.8,1675.1 360.4,1674.1 361.0,1672.1 361.6,1671.8 362.2,1670.8 362.9,1669.8 363.5,1669.6 364.1,1669.0 364.7,1669.1 365.3,1667.8 365.9,1667.6 366.6,1667.6 367.2,1666.7 367.8,1667.9 368.4,1666.9 369.0,1667.8 369.6,1667.9 370.2,1667.8 370.9,1667.5 371.5,1668.9 372.1,1669.3 372.7,1669.9 373.3,1669.0 373.9,1670.3 374.6,1671.2 375.2,1671.5 375.8,1673.4 376.4,1675.6 377.0,1676.2 377.6,1677.7 378.3,1677.7 378.9,1680.6 379.5,1681.5 380.1,1683.6 380.7,1685.2 381.3,1687.0 381.9,1688.9 382.6,1690.8 383.2,1692.7 383.8,1694.6 384.4,1696.6 385.0,1698.6 385.6,1700.7 386.3,1702.8 386.9,1704.9 387.5,1707.0 388.1,1709.1 388.7,1711.3 389.3,1713.4 389.9,1715.6 390.6,1717.8 391.2,1720.1 391.8,1722.3 392.4,1724.6 393.0,1726.9 393.6,1729.2 394.3,1731.6 394.9,1734.0 395.5,1736.4 396.1,1738.9 396.7,1741.4 397.3,1744.0 398.0,1746.6 398.6,1749.2 399.2,1751.8 399.8,1754.4 400.4,1756.9 401.0,1759.5 401.6,1762.0 402.3,1764.6 402.9,1767.1 403.5,1769.6 404.1,1772.1 404.7,1774.6 405.3,1777.0 406.0,1779.5 406.6,1782.0 407.2,1784.4 407.8,1786.8 408.4,1789.1 409.0,1791.4 409.7,1793.7 410.3,1795.9 410.9,1798.2 411.5,1800.4 412.1,1802.6 412.7,1804.9 413.3,1807.1 414.0,1809.4 414.6,1811.7 415.2,1814.1 415.8,1816.5 416.4,1818.9 417.0,1821.3 417.7,1823.7 418.3,1826.1 418.9,1828.5 419.5,1830.8 420.1,1833.0 420.7,1835.2 421.3,1837.2 422.0,1839.2 422.6,1840.9 423.2,1842.7 423.8,1844.4 424.4,1846.1 425.0,1847.8 425.7,1849.4 426.3,1851.1 426.9,1852.7 427.5,1854.4 428.1,1855.9 428.7,1857.5 429.4,1859.1 430.0,1860.6 430.6,1862.1 431.2,1863.6 431.8,1865.0 432.4,1866.5 433.0,1867.9 433.7,1869.3 434.3,1870.6 434.9,1872.0 435.5,1873.3 436.1,1874.5 436.7,1875.8 437.4,1877.0 438.0,1878.2 438.6,1879.4 439.2,1880.6 439.8,1881.8 440.4,1883.0 441.0,1884.3 441.7,1885.6 442.3,1887.0 442.9,1888.4 443.5,1889.8 444.1,1891.2 444.7,1892.5 445.4,1893.9 446.0,1895.2 446.6,1896.4 447.2,1897.5 447.8,1898.6 448.4,1899.7 449.1,1900.8 449.7,1901.8 450.3,1902.8 450.9,1903.8 451.5,1904.7 452.1,1905.7 452.7,1906.6 453.4,1907.5 454.0,1908.4 454.6,1909.2 455.2,1910.1 455.8,1910.9 456.4,1911.7 457.1,1912.5 457.7,1913.2 458.3,1914.0 458.9,1914.7 459.5,1915.3 460.1,1916.0 460.7,1916.6 461.4,1917.3 462.0,1917.9 462.6,1918.5 463.2,1919.1 463.8,1919.6 464.4,1920.2 465.1,1920.8 465.7,1921.4 466.3,1921.9 466.9,1922.5 467.5,1923.1 468.1,1923.7 468.8,1924.3 469.4,1924.9 470.0,1925.4 470.6,1926.0 471.2,1926.5 471.8,1927.0 472.4,1927.5 473.1,1928.0 473.7,1928.4 474.3,1928.9 474.9,1929.2 475.5,1929.6 476.1,1930.0 476.8,1930.3 477.4,1930.7 478.0,1931.0 478.6,1931.3 479.2,1931.6 479.8,1931.9 480.5,1932.2 481.1,1932.6 481.7,1932.9 482.3,1933.2 482.9,1933.5 483.5,1933.8 484.1,1934.1 484.8,1934.4 485.4,1934.7 486.0,1935.0 486.6,1935.3 487.2,1935.5 487.8,1935.8 488.5,1936.1 489.1,1936.4 489.7,1936.7 490.3,1936.9 490.9,1937.2 491.5,1937.5 492.1,1937.8 492.8,1938.1 493.4,1938.3 494.0,1938.6 494.6,1938.9 495.2,1939.1 495.8,1939.4 496.5,1939.7 497.1,1939.9 497.7,1940.2 498.3,1940.5 498.9,1940.7 499.5,1941.0 500.2,1941.3 500.8,1941.5 501.4,1941.8 502.0,1942.0 502.6,1942.3 503.2,1942.6 503.8,1942.8 504.5,1943.1 505.1,1943.3 505.7,1943.6 506.3,1943.9 506.9,1944.1 507.5,1944.4 508.2,1944.7 508.8,1944.9 509.4,1945.2 510.0,1945.5 510.6,1945.8 511.2,1946.1 511.8,1946.3 512.5,1946.6 513.1,1946.9 513.7,1947.2 514.3,1947.5 514.9,1947.7 515.5,1948.0 516.2,1948.3 516.8,1948.5 517.4,1948.8 518.0,1949.0 518.6,1949.3 519.2,1949.5 519.9,1949.7 520.5,1949.9 521.1,1950.1 521.7,1950.4 522.3,1950.6 522.9,1950.7 523.5,1950.9 524.2,1951.1 524.8,1951.3 525.4,1951.5 526.0,1951.7 526.6,1951.9 527.2,1952.0 527.9,1952.2 528.5,1952.4 529.1,1952.5 529.7,1952.7 530.3,1952.9 530.9,1953.0 531.5,1953.2 532.2,1953.3 532.8,1953.5 533.4,1953.6 534.0,1953.8 534.6,1953.9 535.2,1954.1 535.9,1954.2 536.5,1954.3 537.1,1954.5 537.7,1954.6 538.3,1954.7 538.9,1954.9 539.6,1955.0 540.2,1955.1 540.8,1955.3 541.4,1955.4 542.0,1955.5 542.6,1955.6 543.2,1955.8 543.9,1955.9 544.5,1956.0 545.1,1956.1 545.7,1956.3 546.3,1956.4 546.9,1956.5 547.6,1956.6 548.2,1956.7 548.8,1956.8 549.4,1956.9 550.0,1957.0 550.6,1957.1 551.3,1957.2 551.9,1957.3 552.5,1957.4 553.1,1957.5 553.7,1957.5 554.3,1957.6 554.9,1957.7 555.6,1957.7 556.2,1957.8 556.8,1957.9 557.4,1957.9 558.0,1958.0 558.6,1958.0 559.3,1958.1 559.9,1958.1 560.5,1958.2 561.1,1958.3 561.7,1958.3 562.3,1958.4 562.9,1958.4 563.6,1958.4 564.2,1958.5 564.8,1958.5 565.4,1958.6 566.0,1958.6 566.6,1958.7 567.3,1958.7 567.9,1958.7 568.5,1958.8 569.1,1958.8 569.7,1958.8 570.3,1958.9 571.0,1958.9 571.6,1958.9 572.2,1959.0 572.8,1959.0 573.4,1959.0 574.0,1959.1 574.6,1959.1 575.3,1959.1 575.9,1959.1 576.5,1959.2 577.1,1959.2 577.7,1959.2 578.3,1959.2 579.0,1959.3 579.6,1959.3 580.2,1959.3 580.8,1959.3 581.4,1959.3 582.0,1959.4 582.6,1959.4 583.3,1959.4 583.9,1959.4 584.5,1959.4 585.1,1959.4 585.7,1959.5 586.3,1959.5 587.0,1959.5 587.6,1959.5 588.2,1959.5 588.8,1959.5 589.4,1959.6 590.0,1959.6 590.7,1959.6 591.3,1959.6 591.9,1959.6 592.5,1959.6 593.1,1959.7 593.7,1959.7 594.3,1959.7 595.0,1959.7 595.6,1959.7 596.2,1959.7 596.8,1959.8 597.4,1959.8 598.0,1959.8 598.7,1959.8 599.3,1959.9 599.9,1959.9 600.5,1959.9 601.1,1959.9 601.7,1960.0 602.3,1960.0 603.0,1960.0 603.6,1960.0 604.2,1960.1 604.8,1960.1 605.4,1960.1 606.0,1960.1 606.7,1960.1 607.3,1960.2 607.9,1960.2 608.5,1960.2 609.1,1960.2 609.7,1960.2 610.4,1960.2 611.0,1960.2 611.6,1960.3 612.2,1960.3 612.8,1960.3 613.4,1960.3 614.0,1960.3 614.7,1960.3 615.3,1960.3 615.9,1960.3 616.5,1960.2 617.1,1960.2 617.7,1960.2 618.4,1960.2 619.0,1960.2 619.6,1960.1 620.2,1960.1 620.8,1960.1 621.4,1960.1 622.0,1960.0 622.7,1960.0 623.3,1960.0 623.9,1959.9 624.5,1959.9 625.1,1959.8 625.7,1959.8 626.4,1959.8 627.0,1959.7 627.6,1959.7 628.2,1959.6 628.8,1959.6 629.4,1959.6 630.1,1959.5 630.7,1959.5 631.3,1959.4 631.9,1959.4 632.5,1959.3 633.1,1959.3 633.7,1959.3 634.4,1959.2 635.0,1959.2 635.6,1959.2 636.2,1959.1 636.8,1959.1 637.4,1959.0 638.1,1959.0 638.7,1958.9 639.3,1958.9 639.9,1958.8 640.5,1958.8 641.1,1958.7 641.8,1958.7 642.4,1958.6 643.0,1958.6 643.6,1958.5 644.2,1958.5 644.8,1958.4 645.4,1958.4 646.1,1958.3 646.7,1958.3 647.3,1958.2 647.9,1958.2 648.5,1958.1 649.1,1958.1 649.8,1958.0 650.4,1958.0 651.0,1957.9 651.6,1957.8 652.2,1957.8 652.8,1957.7 653.4,1957.7 654.1,1957.6 654.7,1957.6 655.3,1957.5 655.9,1957.5 656.5,1957.4 657.1,1957.4 657.8,1957.3 658.4,1957.2 659.0,1957.2 659.6,1957.1 660.2,1957.1 660.8,1957.0 661.5,1957.0 662.1,1956.9 662.7,1956.8 663.3,1956.8 663.9,1956.7 664.5,1956.7 665.1,1956.6 665.8,1956.6 666.4,1956.5 667.0,1956.4 667.6,1956.4 668.2,1956.3 668.8,1956.3 669.5,1956.2" fill="none" stroke="#3370B9" stroke-width="2.4" stroke-linejoin="round" stroke-linecap="round" clip-path="url(#cl3)"/>
<polyline points="183.1,1920.8 189.2,1907.7 195.4,1879.4 201.6,1835.4 207.7,1767.7 213.9,1710.6 220.0,1670.3 226.2,1668.5 232.3,1686.5 238.5,1715.9 244.7,1762.6 250.8,1826.3 257.0,1887.2 263.1,1919.3 269.3,1934.4 275.4,1941.4 281.6,1945.8 287.8,1949.1 293.9,1952.4 300.1,1955.5 306.2,1958.4 312.4,1960.3 318.5,1961.5 324.7,1962.3 330.8,1963.1 337.0,1963.1 343.2,1963.1 349.3,1963.1 355.5,1963.1 361.6,1963.1 367.8,1963.1 373.9,1963.1 380.1,1963.1 386.3,1963.1 392.4,1963.1 398.6,1963.1 404.7,1963.1 410.9,1963.1 417.0,1963.1 423.2,1963.1 429.4,1963.1 435.5,1963.1 441.7,1963.1 447.8,1963.1 454.0,1963.1 460.1,1963.1 466.3,1963.1 472.4,1963.1" fill="none" stroke="#B5459C" stroke-width="2.4" stroke-linejoin="round" stroke-linecap="round" clip-path="url(#cl3)"/>
<text x="138.7" y="115" font-size="37.7">Emission</text>
<line x1="336.00" y1="101.50" x2="357.80" y2="101.50" stroke="#3370B9" stroke-width="2.4" stroke-linecap="round"/>
<text x="466.3" y="115" font-size="37.7">Excitation</text>
<line x1="672.60" y1="101.50" x2="694.80" y2="101.50" stroke="#B5459C" stroke-width="2.4" stroke-linecap="round"/>
<text x="417.0" y="38.3" font-size="37.7" text-anchor="middle">Component 1</text>
<text transform="translate(92.0,481.1) scale(0.93,1)" font-size="33.0" text-anchor="end">0</text>
<text transform="translate(92.0,378.6) scale(0.93,1)" font-size="33.0" text-anchor="end">1</text>
<text transform="translate(92.0,276.1) scale(0.93,1)" font-size="33.0" text-anchor="end">2</text>
<text transform="translate(92.0,173.6) scale(0.93,1)" font-size="33.0" text-anchor="end">3</text>
<text transform="translate(92.0,71.1) scale(0.93,1)" font-size="33.0" text-anchor="end">4</text>
<text x="417.0" y="535.2" font-size="37.7" text-anchor="middle">Component 2</text>
<text transform="translate(92.0,978.0) scale(0.93,1)" font-size="33.0" text-anchor="end">0</text>
<text transform="translate(92.0,875.5) scale(0.93,1)" font-size="33.0" text-anchor="end">1</text>
<text transform="translate(92.0,773.0) scale(0.93,1)" font-size="33.0" text-anchor="end">2</text>
<text transform="translate(92.0,670.5) scale(0.93,1)" font-size="33.0" text-anchor="end">3</text>
<text transform="translate(92.0,568.0) scale(0.93,1)" font-size="33.0" text-anchor="end">4</text>
<text x="417.0" y="1032.1" font-size="37.7" text-anchor="middle">Component 3</text>
<text transform="translate(92.0,1475.0) scale(0.93,1)" font-size="33.0" text-anchor="end">0</text>
<text transform="translate(92.0,1372.5) scale(0.93,1)" font-size="33.0" text-anchor="end">1</text>
<text transform="translate(92.0,1270.0) scale(0.93,1)" font-size="33.0" text-anchor="end">2</text>
<text transform="translate(92.0,1167.5) scale(0.93,1)" font-size="33.0" text-anchor="end">3</text>
<text transform="translate(92.0,1065.0) scale(0.93,1)" font-size="33.0" text-anchor="end">4</text>
<text x="417.0" y="1529.0" font-size="37.7" text-anchor="middle">Component 4</text>
<text transform="translate(92.0,1971.8) scale(0.93,1)" font-size="33.0" text-anchor="end">0</text>
<text transform="translate(92.0,1869.3) scale(0.93,1)" font-size="33.0" text-anchor="end">1</text>
<text transform="translate(92.0,1766.8) scale(0.93,1)" font-size="33.0" text-anchor="end">2</text>
<text transform="translate(92.0,1664.3) scale(0.93,1)" font-size="33.0" text-anchor="end">3</text>
<text transform="translate(92.0,1561.8) scale(0.93,1)" font-size="33.0" text-anchor="end">4</text>
<text transform="translate(237.0,2046.4) scale(0.93,1)" font-size="33.0" text-anchor="middle">300</text>
<text transform="translate(360.1,2046.4) scale(0.93,1)" font-size="33.0" text-anchor="middle">400</text>
<text transform="translate(483.3,2046.4) scale(0.93,1)" font-size="33.0" text-anchor="middle">500</text>
<text transform="translate(606.4,2046.4) scale(0.93,1)" font-size="33.0" text-anchor="middle">600</text>
<text transform="translate(38.7,1122.7) rotate(-90)" font-size="47.4" dx="0 2 -1.4 0 0 0 0 -4.8 0 0 -2 0">Factor value</text>
<text transform="translate(368.5,2109.6) scale(0.935,1)" font-family="'WenQuanYi Zen Hei', 'DejaVu Sans', sans-serif" font-size="49.6">λ</text>
<text x="393.4" y="2111.6" font-size="47.4">, nm</text>
<g filter="url(#cm)"><rect x="959.7" y="48.20" width="415.30" height="450.77" fill="url(#em0)"/><rect x="959.7" y="48.20" width="415.30" height="450.77" fill="url(#ex0)" style="mix-blend-mode:multiply"/></g>
<g filter="url(#cm)"><rect x="959.7" y="543.97" width="415.30" height="450.77" fill="url(#em1)"/><rect x="959.7" y="543.97" width="415.30" height="450.77" fill="url(#ex1)" style="mix-blend-mode:multiply"/></g>
<g filter="url(#cm)"><rect x="959.7" y="1039.75" width="415.30" height="450.77" fill="url(#em2)"/><rect x="959.7" y="1039.75" width="415.30" height="450.77" fill="url(#ex2)" style="mix-blend-mode:multiply"/></g>
<g filter="url(#cm)"><rect x="959.7" y="1535.52" width="415.30" height="450.77" fill="url(#em3)"/><rect x="959.7" y="1535.52" width="415.30" height="450.77" fill="url(#ex3)" style="mix-blend-mode:multiply"/></g>
<g stroke="#231F20" stroke-width="2.2" fill="none" stroke-linejoin="round" stroke-linecap="round">
<rect x="959.7" y="3.20" width="415.30" height="45.0" fill="#FFE5CC"/>
<rect x="959.7" y="48.20" width="415.30" height="450.77"/>
<line x1="941.90" y1="409.76" x2="959.70" y2="409.76" />
<line x1="941.90" y1="315.85" x2="959.70" y2="315.85" />
<line x1="941.90" y1="221.94" x2="959.70" y2="221.94" />
<line x1="941.90" y1="128.02" x2="959.70" y2="128.02" />
<rect x="959.7" y="498.97" width="415.30" height="45.0" fill="#FFE5CC"/>
<rect x="959.7" y="543.97" width="415.30" height="450.77"/>
<line x1="941.90" y1="905.53" x2="959.70" y2="905.53" />
<line x1="941.90" y1="811.62" x2="959.70" y2="811.62" />
<line x1="941.90" y1="717.71" x2="959.70" y2="717.71" />
<line x1="941.90" y1="623.80" x2="959.70" y2="623.80" />
<rect x="959.7" y="994.75" width="415.30" height="45.0" fill="#FFE5CC"/>
<rect x="959.7" y="1039.75" width="415.30" height="450.77"/>
<line x1="941.90" y1="1401.31" x2="959.70" y2="1401.31" />
<line x1="941.90" y1="1307.40" x2="959.70" y2="1307.40" />
<line x1="941.90" y1="1213.49" x2="959.70" y2="1213.49" />
<line x1="941.90" y1="1119.57" x2="959.70" y2="1119.57" />
<rect x="959.7" y="1490.52" width="415.30" height="45.0" fill="#FFE5CC"/>
<rect x="959.7" y="1535.52" width="415.30" height="450.77"/>
<line x1="941.90" y1="1897.08" x2="959.70" y2="1897.08" />
<line x1="941.90" y1="1803.17" x2="959.70" y2="1803.17" />
<line x1="941.90" y1="1709.26" x2="959.70" y2="1709.26" />
<line x1="941.90" y1="1615.35" x2="959.70" y2="1615.35" />
<line x1="1020.83" y1="1986.30" x2="1020.83" y2="2003.50" />
<line x1="1121.88" y1="1986.30" x2="1121.88" y2="2003.50" />
<line x1="1222.93" y1="1986.30" x2="1222.93" y2="2003.50" />
<line x1="1323.97" y1="1986.30" x2="1323.97" y2="2003.50" />
</g>
<text x="1166.1" y="38.3" font-size="37.7" text-anchor="middle">Component 1</text>
<text transform="translate(921.4,419.6) scale(0.93,1)" font-size="33.0" text-anchor="end">300</text>
<text transform="translate(921.4,325.6) scale(0.93,1)" font-size="33.0" text-anchor="end">350</text>
<text transform="translate(921.4,231.7) scale(0.93,1)" font-size="33.0" text-anchor="end">400</text>
<text transform="translate(921.4,137.8) scale(0.93,1)" font-size="33.0" text-anchor="end">450</text>
<text x="1166.1" y="534.1" font-size="37.7" text-anchor="middle">Component 2</text>
<text transform="translate(921.4,915.3) scale(0.93,1)" font-size="33.0" text-anchor="end">300</text>
<text transform="translate(921.4,821.4) scale(0.93,1)" font-size="33.0" text-anchor="end">350</text>
<text transform="translate(921.4,727.5) scale(0.93,1)" font-size="33.0" text-anchor="end">400</text>
<text transform="translate(921.4,633.6) scale(0.93,1)" font-size="33.0" text-anchor="end">450</text>
<text x="1166.1" y="1029.8" font-size="37.7" text-anchor="middle">Component 3</text>
<text transform="translate(921.4,1411.1) scale(0.93,1)" font-size="33.0" text-anchor="end">300</text>
<text transform="translate(921.4,1317.2) scale(0.93,1)" font-size="33.0" text-anchor="end">350</text>
<text transform="translate(921.4,1223.3) scale(0.93,1)" font-size="33.0" text-anchor="end">400</text>
<text transform="translate(921.4,1129.4) scale(0.93,1)" font-size="33.0" text-anchor="end">450</text>
<text x="1166.1" y="1525.6" font-size="37.7" text-anchor="middle">Component 4</text>
<text transform="translate(921.4,1906.9) scale(0.93,1)" font-size="33.0" text-anchor="end">300</text>
<text transform="translate(921.4,1813.0) scale(0.93,1)" font-size="33.0" text-anchor="end">350</text>
<text transform="translate(921.4,1719.1) scale(0.93,1)" font-size="33.0" text-anchor="end">400</text>
<text transform="translate(921.4,1625.1) scale(0.93,1)" font-size="33.0" text-anchor="end">450</text>
<text transform="translate(1018.8,2040.8) scale(0.93,1)" font-size="33.0" text-anchor="middle">300</text>
<text transform="translate(1119.9,2040.8) scale(0.93,1)" font-size="33.0" text-anchor="middle">400</text>
<text transform="translate(1220.9,2040.8) scale(0.93,1)" font-size="33.0" text-anchor="middle">500</text>
<text transform="translate(1322.0,2040.8) scale(0.93,1)" font-size="33.0" text-anchor="middle">600</text>
<text transform="translate(1093.4,2105.9) scale(0.935,1)" font-family="'WenQuanYi Zen Hei', 'DejaVu Sans', sans-serif" font-size="49.6">λ</text>
<text x="1120.2" y="2114.8" font-size="37.5">em</text>
<text x="1180.7" y="2107.0" font-size="47.4">, nm</text>
<text transform="translate(822.0,1085.4) rotate(-90) scale(0.935,1)" font-family="'WenQuanYi Zen Hei', 'DejaVu Sans', sans-serif" font-size="49.6">λ</text>
<text transform="translate(831.9,1059.5) rotate(-90)" font-size="40.5">ex</text>
<text transform="translate(826.3,1014.9) rotate(-90)" font-size="47.4">, nm</text>
<rect x="1428.9" y="3.2" width="54.10" height="1983.10" fill="url(#cb)" stroke="#231F20" stroke-width="2.2" stroke-linejoin="round"/>
<line x1="1483.00" y1="1864.20" x2="1496.10" y2="1864.20" stroke="#231F20" stroke-width="2.2" stroke-linecap="round"/>
<text transform="translate(1509.9,1873.1) scale(0.93,1)" font-size="33.0" text-anchor="start">0</text>
<line x1="1483.00" y1="1558.58" x2="1496.10" y2="1558.58" stroke="#231F20" stroke-width="2.2" stroke-linecap="round"/>
<text transform="translate(1509.9,1567.5) scale(0.93,1)" font-size="33.0" text-anchor="start">2</text>
<line x1="1483.00" y1="1252.96" x2="1496.10" y2="1252.96" stroke="#231F20" stroke-width="2.2" stroke-linecap="round"/>
<text transform="translate(1509.9,1261.9) scale(0.93,1)" font-size="33.0" text-anchor="start">4</text>
<line x1="1483.00" y1="947.34" x2="1496.10" y2="947.34" stroke="#231F20" stroke-width="2.2" stroke-linecap="round"/>
<text transform="translate(1509.9,956.2) scale(0.93,1)" font-size="33.0" text-anchor="start">6</text>
<line x1="1483.00" y1="641.72" x2="1496.10" y2="641.72" stroke="#231F20" stroke-width="2.2" stroke-linecap="round"/>
<text transform="translate(1509.9,650.6) scale(0.93,1)" font-size="33.0" text-anchor="start">8</text>
<line x1="1483.00" y1="336.10" x2="1496.10" y2="336.10" stroke="#231F20" stroke-width="2.2" stroke-linecap="round"/>
<text transform="translate(1509.9,345.0) scale(0.93,1)" font-size="33.0" text-anchor="start">10</text>
<line x1="1483.00" y1="30.48" x2="1496.10" y2="30.48" stroke="#231F20" stroke-width="2.2" stroke-linecap="round"/>
<text transform="translate(1509.9,39.4) scale(0.93,1)" font-size="33.0" text-anchor="start">12</text>
</svg>
</body></html>
